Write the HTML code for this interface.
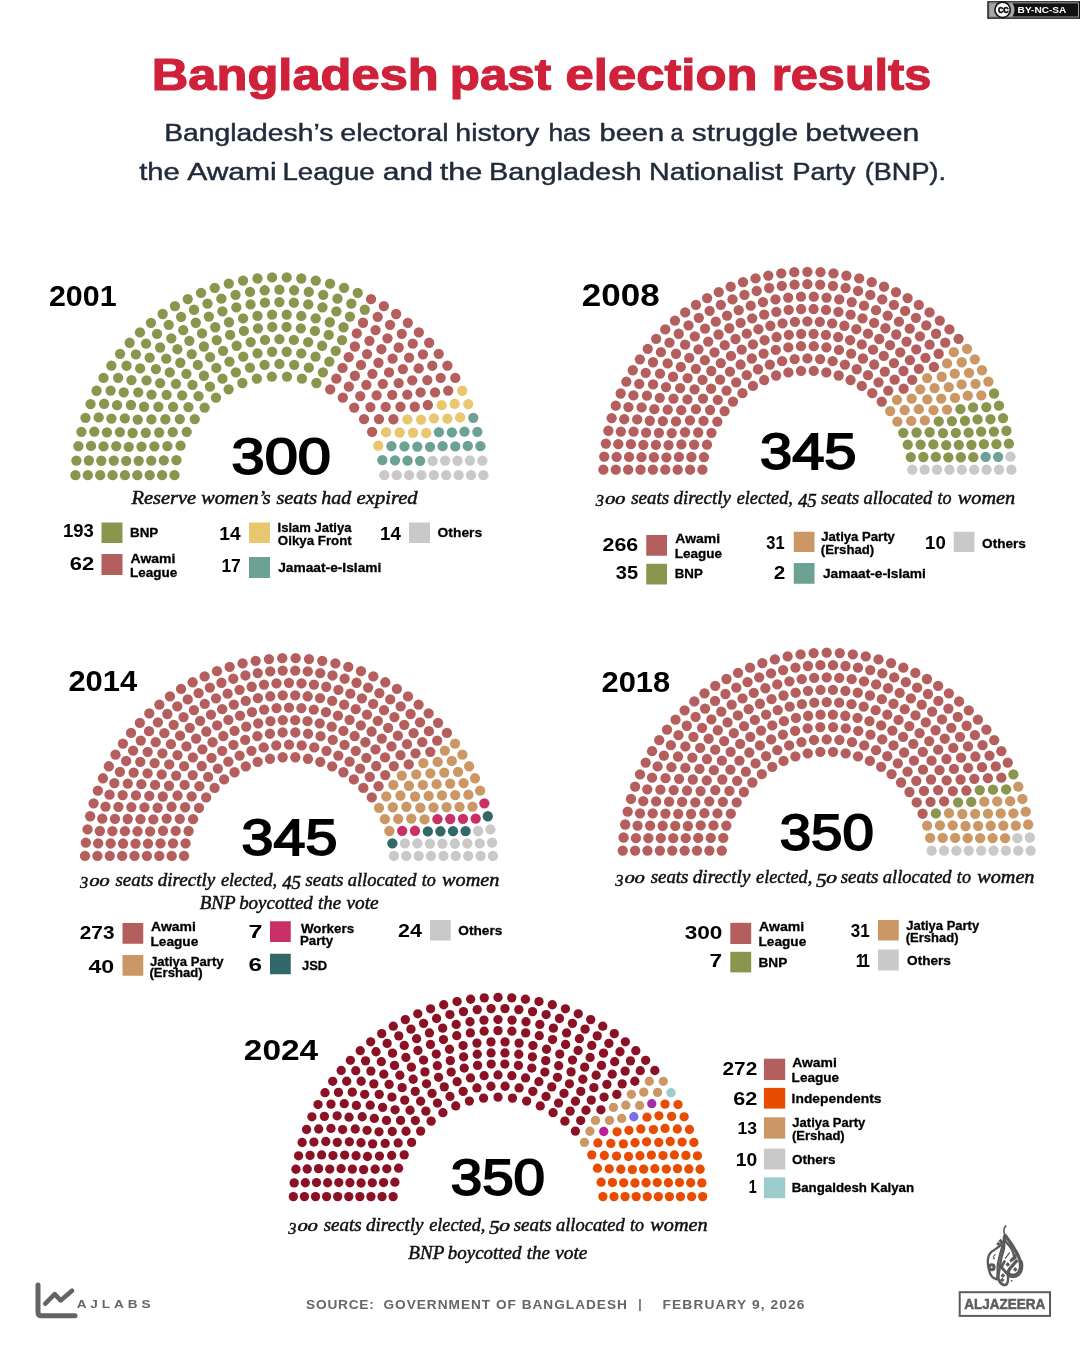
<!DOCTYPE html>
<html lang="en"><head><meta charset="utf-8"><title>Bangladesh past election results</title>
<style>
html,body{margin:0;padding:0;background:#fff}
body{width:1080px;height:1350px;overflow:hidden}
svg{display:block}
text{white-space:pre}
</style></head><body>
<svg width="1080" height="1350" viewBox="0 0 1080 1350">
<rect width="1080" height="1350" fill="#fff"/>
<g fill="#8B954D"><circle cx="75.43" cy="475.20" r="5.15"/><circle cx="87.81" cy="475.20" r="5.15"/><circle cx="100.19" cy="475.20" r="5.15"/><circle cx="112.57" cy="475.20" r="5.15"/><circle cx="124.95" cy="475.20" r="5.15"/><circle cx="137.33" cy="475.20" r="5.15"/><circle cx="149.71" cy="475.20" r="5.15"/><circle cx="162.09" cy="475.20" r="5.15"/><circle cx="174.47" cy="475.20" r="5.15"/><circle cx="76.40" cy="460.61" r="5.15"/><circle cx="88.85" cy="460.49" r="5.15"/><circle cx="101.28" cy="460.75" r="5.15"/><circle cx="113.75" cy="460.62" r="5.15"/><circle cx="126.19" cy="460.92" r="5.15"/><circle cx="138.69" cy="460.79" r="5.15"/><circle cx="151.23" cy="460.64" r="5.15"/><circle cx="78.40" cy="446.13" r="5.15"/><circle cx="163.81" cy="460.45" r="5.15"/><circle cx="91.02" cy="445.91" r="5.15"/><circle cx="103.52" cy="446.43" r="5.15"/><circle cx="176.44" cy="460.21" r="5.15"/><circle cx="116.21" cy="446.20" r="5.15"/><circle cx="128.74" cy="446.81" r="5.15"/><circle cx="81.44" cy="431.84" r="5.15"/><circle cx="141.52" cy="446.60" r="5.15"/><circle cx="94.31" cy="431.54" r="5.15"/><circle cx="154.38" cy="446.34" r="5.15"/><circle cx="106.92" cy="432.34" r="5.15"/><circle cx="119.91" cy="432.05" r="5.15"/><circle cx="167.37" cy="446.03" r="5.15"/><circle cx="85.50" cy="417.79" r="5.15"/><circle cx="132.59" cy="433.01" r="5.15"/><circle cx="98.68" cy="417.46" r="5.15"/><circle cx="180.55" cy="445.65" r="5.15"/><circle cx="145.77" cy="432.76" r="5.15"/><circle cx="111.45" cy="418.57" r="5.15"/><circle cx="159.12" cy="432.49" r="5.15"/><circle cx="124.84" cy="418.28" r="5.15"/><circle cx="90.55" cy="404.07" r="5.15"/><circle cx="137.71" cy="419.61" r="5.15"/><circle cx="104.13" cy="403.77" r="5.15"/><circle cx="172.73" cy="432.18" r="5.15"/><circle cx="117.07" cy="405.21" r="5.15"/><circle cx="151.40" cy="419.43" r="5.15"/><circle cx="96.57" cy="390.75" r="5.15"/><circle cx="130.96" cy="405.00" r="5.15"/><circle cx="186.70" cy="431.84" r="5.15"/><circle cx="110.61" cy="390.53" r="5.15"/><circle cx="165.39" cy="419.26" r="5.15"/><circle cx="144.04" cy="406.75" r="5.15"/><circle cx="123.76" cy="392.34" r="5.15"/><circle cx="103.53" cy="377.90" r="5.15"/><circle cx="158.36" cy="406.74" r="5.15"/><circle cx="179.79" cy="419.11" r="5.15"/><circle cx="138.22" cy="392.30" r="5.15"/><circle cx="118.10" cy="377.82" r="5.15"/><circle cx="151.54" cy="394.53" r="5.15"/><circle cx="131.46" cy="380.06" r="5.15"/><circle cx="111.39" cy="365.57" r="5.15"/><circle cx="173.11" cy="406.82" r="5.15"/><circle cx="194.77" cy="419.05" r="5.15"/><circle cx="126.53" cy="365.73" r="5.15"/><circle cx="146.56" cy="380.28" r="5.15"/><circle cx="166.58" cy="394.83" r="5.15"/><circle cx="120.11" cy="353.84" r="5.15"/><circle cx="140.12" cy="368.44" r="5.15"/><circle cx="188.45" cy="407.05" r="5.15"/><circle cx="160.13" cy="383.06" r="5.15"/><circle cx="135.87" cy="354.33" r="5.15"/><circle cx="182.18" cy="395.33" r="5.15"/><circle cx="155.92" cy="369.04" r="5.15"/><circle cx="129.65" cy="342.77" r="5.15"/><circle cx="175.96" cy="383.81" r="5.15"/><circle cx="149.70" cy="357.56" r="5.15"/><circle cx="204.59" cy="407.55" r="5.15"/><circle cx="169.75" cy="372.44" r="5.15"/><circle cx="146.06" cy="343.67" r="5.15"/><circle cx="198.55" cy="396.16" r="5.15"/><circle cx="139.96" cy="332.40" r="5.15"/><circle cx="166.22" cy="358.66" r="5.15"/><circle cx="192.49" cy="384.93" r="5.15"/><circle cx="160.13" cy="347.49" r="5.15"/><circle cx="186.41" cy="373.80" r="5.15"/><circle cx="180.32" cy="362.75" r="5.15"/><circle cx="157.04" cy="333.83" r="5.15"/><circle cx="150.98" cy="322.80" r="5.15"/><circle cx="177.40" cy="349.23" r="5.15"/><circle cx="215.96" cy="397.58" r="5.15"/><circle cx="171.33" cy="338.30" r="5.15"/><circle cx="209.95" cy="386.64" r="5.15"/><circle cx="203.90" cy="375.76" r="5.15"/><circle cx="168.74" cy="324.87" r="5.15"/><circle cx="197.83" cy="364.91" r="5.15"/><circle cx="162.66" cy="314.01" r="5.15"/><circle cx="191.74" cy="354.08" r="5.15"/><circle cx="189.36" cy="340.81" r="5.15"/><circle cx="183.24" cy="330.04" r="5.15"/><circle cx="181.10" cy="316.83" r="5.15"/><circle cx="174.94" cy="306.09" r="5.15"/><circle cx="203.91" cy="346.51" r="5.15"/><circle cx="210.09" cy="357.22" r="5.15"/><circle cx="216.28" cy="367.93" r="5.15"/><circle cx="222.46" cy="378.64" r="5.15"/><circle cx="228.64" cy="389.35" r="5.15"/><circle cx="195.78" cy="322.76" r="5.15"/><circle cx="202.01" cy="333.47" r="5.15"/><circle cx="187.76" cy="299.06" r="5.15"/><circle cx="194.03" cy="309.76" r="5.15"/><circle cx="216.73" cy="340.09" r="5.15"/><circle cx="223.07" cy="350.82" r="5.15"/><circle cx="208.86" cy="316.53" r="5.15"/><circle cx="229.45" cy="361.54" r="5.15"/><circle cx="215.25" cy="327.26" r="5.15"/><circle cx="201.05" cy="292.97" r="5.15"/><circle cx="207.48" cy="303.71" r="5.15"/><circle cx="235.88" cy="372.28" r="5.15"/><circle cx="242.37" cy="383.01" r="5.15"/><circle cx="230.09" cy="334.89" r="5.15"/><circle cx="222.41" cy="311.37" r="5.15"/><circle cx="214.74" cy="287.84" r="5.15"/><circle cx="221.34" cy="298.70" r="5.15"/><circle cx="228.99" cy="322.24" r="5.15"/><circle cx="236.64" cy="345.77" r="5.15"/><circle cx="243.26" cy="356.68" r="5.15"/><circle cx="249.99" cy="367.66" r="5.15"/><circle cx="228.76" cy="283.71" r="5.15"/><circle cx="236.33" cy="307.32" r="5.15"/><circle cx="243.87" cy="330.95" r="5.15"/><circle cx="235.55" cy="294.78" r="5.15"/><circle cx="243.11" cy="318.44" r="5.15"/><circle cx="256.87" cy="378.72" r="5.15"/><circle cx="250.64" cy="342.12" r="5.15"/><circle cx="243.04" cy="280.59" r="5.15"/><circle cx="257.53" cy="353.41" r="5.15"/><circle cx="250.53" cy="304.41" r="5.15"/><circle cx="250.02" cy="291.96" r="5.15"/><circle cx="257.96" cy="328.31" r="5.15"/><circle cx="257.52" cy="315.89" r="5.15"/><circle cx="264.58" cy="364.86" r="5.15"/><circle cx="257.51" cy="278.50" r="5.15"/><circle cx="264.95" cy="339.92" r="5.15"/><circle cx="264.92" cy="302.66" r="5.15"/><circle cx="264.67" cy="290.27" r="5.15"/><circle cx="271.84" cy="376.55" r="5.15"/><circle cx="272.08" cy="351.76" r="5.15"/><circle cx="272.23" cy="326.98" r="5.15"/><circle cx="272.09" cy="314.61" r="5.15"/><circle cx="272.09" cy="277.46" r="5.15"/><circle cx="279.40" cy="289.70" r="5.15"/><circle cx="279.40" cy="302.07" r="5.15"/><circle cx="279.40" cy="339.19" r="5.15"/><circle cx="279.40" cy="363.92" r="5.15"/><circle cx="286.71" cy="277.46" r="5.15"/><circle cx="286.71" cy="314.61" r="5.15"/><circle cx="286.57" cy="326.98" r="5.15"/><circle cx="286.72" cy="351.76" r="5.15"/><circle cx="286.96" cy="376.55" r="5.15"/><circle cx="294.13" cy="290.27" r="5.15"/><circle cx="293.88" cy="302.66" r="5.15"/><circle cx="293.85" cy="339.92" r="5.15"/><circle cx="301.29" cy="278.50" r="5.15"/><circle cx="294.22" cy="364.86" r="5.15"/><circle cx="301.28" cy="315.89" r="5.15"/><circle cx="300.84" cy="328.31" r="5.15"/><circle cx="308.78" cy="291.96" r="5.15"/><circle cx="308.27" cy="304.41" r="5.15"/><circle cx="301.27" cy="353.41" r="5.15"/><circle cx="315.76" cy="280.59" r="5.15"/><circle cx="308.16" cy="342.12" r="5.15"/><circle cx="301.93" cy="378.72" r="5.15"/><circle cx="315.69" cy="318.44" r="5.15"/><circle cx="323.25" cy="294.78" r="5.15"/><circle cx="314.93" cy="330.95" r="5.15"/><circle cx="322.47" cy="307.32" r="5.15"/><circle cx="330.04" cy="283.71" r="5.15"/><circle cx="308.81" cy="367.66" r="5.15"/><circle cx="315.54" cy="356.68" r="5.15"/><circle cx="322.16" cy="345.77" r="5.15"/><circle cx="329.81" cy="322.24" r="5.15"/><circle cx="337.46" cy="298.70" r="5.15"/><circle cx="344.06" cy="287.84" r="5.15"/><circle cx="336.39" cy="311.37" r="5.15"/><circle cx="328.71" cy="334.89" r="5.15"/><circle cx="316.43" cy="383.01" r="5.15"/><circle cx="322.92" cy="372.28" r="5.15"/><circle cx="351.32" cy="303.71" r="5.15"/><circle cx="357.75" cy="292.97" r="5.15"/><circle cx="343.55" cy="327.26" r="5.15"/><circle cx="329.35" cy="361.54" r="5.15"/><circle cx="349.94" cy="316.53" r="5.15"/><circle cx="335.73" cy="350.82" r="5.15"/><circle cx="342.07" cy="340.09" r="5.15"/><circle cx="364.77" cy="309.76" r="5.15"/></g>
<g fill="#B55E5E"><circle cx="371.04" cy="299.06" r="5.15"/><circle cx="356.79" cy="333.47" r="5.15"/><circle cx="363.02" cy="322.76" r="5.15"/><circle cx="330.16" cy="389.35" r="5.15"/><circle cx="336.34" cy="378.64" r="5.15"/><circle cx="342.52" cy="367.93" r="5.15"/><circle cx="348.71" cy="357.22" r="5.15"/><circle cx="354.89" cy="346.51" r="5.15"/><circle cx="383.86" cy="306.09" r="5.15"/><circle cx="377.70" cy="316.83" r="5.15"/><circle cx="375.56" cy="330.04" r="5.15"/><circle cx="369.44" cy="340.81" r="5.15"/><circle cx="367.06" cy="354.08" r="5.15"/><circle cx="396.14" cy="314.01" r="5.15"/><circle cx="360.97" cy="364.91" r="5.15"/><circle cx="390.06" cy="324.87" r="5.15"/><circle cx="354.90" cy="375.76" r="5.15"/><circle cx="348.85" cy="386.64" r="5.15"/><circle cx="387.47" cy="338.30" r="5.15"/><circle cx="342.84" cy="397.58" r="5.15"/><circle cx="381.40" cy="349.23" r="5.15"/><circle cx="407.82" cy="322.80" r="5.15"/><circle cx="401.76" cy="333.83" r="5.15"/><circle cx="378.48" cy="362.75" r="5.15"/><circle cx="372.39" cy="373.80" r="5.15"/><circle cx="398.67" cy="347.49" r="5.15"/><circle cx="366.31" cy="384.93" r="5.15"/><circle cx="392.58" cy="358.66" r="5.15"/><circle cx="418.84" cy="332.40" r="5.15"/><circle cx="360.25" cy="396.16" r="5.15"/><circle cx="412.74" cy="343.67" r="5.15"/><circle cx="389.05" cy="372.44" r="5.15"/><circle cx="354.21" cy="407.55" r="5.15"/><circle cx="409.10" cy="357.56" r="5.15"/><circle cx="382.84" cy="383.81" r="5.15"/><circle cx="429.15" cy="342.77" r="5.15"/><circle cx="402.88" cy="369.04" r="5.15"/><circle cx="376.62" cy="395.33" r="5.15"/><circle cx="422.93" cy="354.33" r="5.15"/><circle cx="398.67" cy="383.06" r="5.15"/><circle cx="370.35" cy="407.05" r="5.15"/><circle cx="418.68" cy="368.44" r="5.15"/><circle cx="438.69" cy="353.84" r="5.15"/><circle cx="392.22" cy="394.83" r="5.15"/><circle cx="412.24" cy="380.28" r="5.15"/><circle cx="432.27" cy="365.73" r="5.15"/><circle cx="364.03" cy="419.05" r="5.15"/><circle cx="385.69" cy="406.82" r="5.15"/><circle cx="447.41" cy="365.57" r="5.15"/><circle cx="427.34" cy="380.06" r="5.15"/><circle cx="407.26" cy="394.53" r="5.15"/><circle cx="440.70" cy="377.82" r="5.15"/><circle cx="420.58" cy="392.30" r="5.15"/><circle cx="379.01" cy="419.11" r="5.15"/><circle cx="400.44" cy="406.74" r="5.15"/><circle cx="455.27" cy="377.90" r="5.15"/><circle cx="435.04" cy="392.34" r="5.15"/><circle cx="414.76" cy="406.75" r="5.15"/><circle cx="393.41" cy="419.26" r="5.15"/><circle cx="448.19" cy="390.53" r="5.15"/><circle cx="372.10" cy="431.84" r="5.15"/><circle cx="427.84" cy="405.00" r="5.15"/></g>
<g fill="#E9C76F"><circle cx="462.23" cy="390.75" r="5.15"/><circle cx="407.40" cy="419.43" r="5.15"/><circle cx="441.73" cy="405.21" r="5.15"/><circle cx="386.07" cy="432.18" r="5.15"/><circle cx="454.67" cy="403.77" r="5.15"/><circle cx="421.09" cy="419.61" r="5.15"/><circle cx="468.25" cy="404.07" r="5.15"/><circle cx="433.96" cy="418.28" r="5.15"/><circle cx="399.68" cy="432.49" r="5.15"/><circle cx="447.35" cy="418.57" r="5.15"/><circle cx="413.03" cy="432.76" r="5.15"/><circle cx="378.25" cy="445.65" r="5.15"/><circle cx="460.12" cy="417.46" r="5.15"/><circle cx="426.21" cy="433.01" r="5.15"/></g>
<g fill="#6DA193"><circle cx="473.30" cy="417.79" r="5.15"/><circle cx="391.43" cy="446.03" r="5.15"/><circle cx="438.89" cy="432.05" r="5.15"/><circle cx="451.88" cy="432.34" r="5.15"/><circle cx="404.42" cy="446.34" r="5.15"/><circle cx="464.49" cy="431.54" r="5.15"/><circle cx="417.28" cy="446.60" r="5.15"/><circle cx="477.36" cy="431.84" r="5.15"/><circle cx="430.06" cy="446.81" r="5.15"/><circle cx="442.59" cy="446.20" r="5.15"/><circle cx="382.36" cy="460.21" r="5.15"/><circle cx="455.28" cy="446.43" r="5.15"/><circle cx="467.78" cy="445.91" r="5.15"/><circle cx="394.99" cy="460.45" r="5.15"/><circle cx="480.40" cy="446.13" r="5.15"/><circle cx="407.57" cy="460.64" r="5.15"/><circle cx="420.11" cy="460.79" r="5.15"/></g>
<g fill="#C9C9C9"><circle cx="432.61" cy="460.92" r="5.15"/><circle cx="445.05" cy="460.62" r="5.15"/><circle cx="457.52" cy="460.75" r="5.15"/><circle cx="469.95" cy="460.49" r="5.15"/><circle cx="482.40" cy="460.61" r="5.15"/><circle cx="384.33" cy="475.20" r="5.15"/><circle cx="396.71" cy="475.20" r="5.15"/><circle cx="409.09" cy="475.20" r="5.15"/><circle cx="421.47" cy="475.20" r="5.15"/><circle cx="433.85" cy="475.20" r="5.15"/><circle cx="446.23" cy="475.20" r="5.15"/><circle cx="458.61" cy="475.20" r="5.15"/><circle cx="470.99" cy="475.20" r="5.15"/><circle cx="483.37" cy="475.20" r="5.15"/></g>

<g fill="#B55E5E"><circle cx="603.40" cy="469.66" r="5.15"/><circle cx="615.78" cy="469.66" r="5.15"/><circle cx="628.16" cy="469.66" r="5.15"/><circle cx="640.54" cy="469.66" r="5.15"/><circle cx="652.92" cy="469.66" r="5.15"/><circle cx="665.30" cy="469.66" r="5.15"/><circle cx="677.68" cy="469.66" r="5.15"/><circle cx="690.06" cy="469.66" r="5.15"/><circle cx="702.44" cy="469.66" r="5.15"/><circle cx="604.22" cy="456.59" r="5.15"/><circle cx="616.62" cy="456.87" r="5.15"/><circle cx="629.06" cy="456.88" r="5.15"/><circle cx="641.47" cy="457.21" r="5.15"/><circle cx="653.92" cy="457.25" r="5.15"/><circle cx="666.38" cy="457.30" r="5.15"/><circle cx="678.91" cy="456.97" r="5.15"/><circle cx="605.87" cy="443.60" r="5.15"/><circle cx="691.42" cy="457.00" r="5.15"/><circle cx="618.32" cy="444.16" r="5.15"/><circle cx="630.87" cy="444.20" r="5.15"/><circle cx="703.95" cy="457.04" r="5.15"/><circle cx="643.33" cy="444.86" r="5.15"/><circle cx="655.91" cy="444.96" r="5.15"/><circle cx="668.53" cy="445.08" r="5.15"/><circle cx="608.35" cy="430.74" r="5.15"/><circle cx="620.86" cy="431.59" r="5.15"/><circle cx="681.39" cy="444.46" r="5.15"/><circle cx="633.58" cy="431.68" r="5.15"/><circle cx="646.10" cy="432.68" r="5.15"/><circle cx="694.14" cy="444.56" r="5.15"/><circle cx="658.89" cy="432.87" r="5.15"/><circle cx="611.66" cy="418.07" r="5.15"/><circle cx="624.23" cy="419.23" r="5.15"/><circle cx="706.98" cy="444.70" r="5.15"/><circle cx="671.74" cy="433.10" r="5.15"/><circle cx="637.18" cy="419.38" r="5.15"/><circle cx="649.78" cy="420.75" r="5.15"/><circle cx="685.07" cy="432.25" r="5.15"/><circle cx="615.77" cy="405.63" r="5.15"/><circle cx="662.83" cy="421.06" r="5.15"/><circle cx="628.43" cy="407.11" r="5.15"/><circle cx="698.19" cy="432.49" r="5.15"/><circle cx="641.64" cy="407.38" r="5.15"/><circle cx="675.99" cy="421.44" r="5.15"/><circle cx="654.34" cy="409.13" r="5.15"/><circle cx="620.67" cy="393.49" r="5.15"/><circle cx="711.47" cy="432.82" r="5.15"/><circle cx="633.42" cy="395.31" r="5.15"/><circle cx="689.94" cy="420.46" r="5.15"/><circle cx="667.71" cy="409.61" r="5.15"/><circle cx="646.95" cy="395.72" r="5.15"/><circle cx="626.33" cy="381.68" r="5.15"/><circle cx="681.23" cy="410.20" r="5.15"/><circle cx="659.75" cy="397.87" r="5.15"/><circle cx="703.52" cy="420.93" r="5.15"/><circle cx="639.20" cy="383.86" r="5.15"/><circle cx="673.49" cy="398.58" r="5.15"/><circle cx="653.08" cy="384.47" r="5.15"/><circle cx="695.94" cy="409.21" r="5.15"/><circle cx="717.36" cy="421.56" r="5.15"/><circle cx="632.75" cy="370.26" r="5.15"/><circle cx="666.00" cy="387.06" r="5.15"/><circle cx="687.43" cy="399.45" r="5.15"/><circle cx="645.72" cy="372.82" r="5.15"/><circle cx="710.08" cy="410.02" r="5.15"/><circle cx="680.15" cy="388.06" r="5.15"/><circle cx="660.00" cy="373.69" r="5.15"/><circle cx="639.88" cy="359.28" r="5.15"/><circle cx="652.97" cy="362.25" r="5.15"/><circle cx="673.03" cy="376.74" r="5.15"/><circle cx="703.02" cy="398.59" r="5.15"/><circle cx="694.55" cy="389.29" r="5.15"/><circle cx="724.57" cy="411.10" r="5.15"/><circle cx="647.70" cy="348.78" r="5.15"/><circle cx="667.67" cy="363.43" r="5.15"/><circle cx="687.62" cy="378.11" r="5.15"/><circle cx="660.91" cy="352.18" r="5.15"/><circle cx="717.77" cy="399.87" r="5.15"/><circle cx="680.81" cy="366.98" r="5.15"/><circle cx="711.10" cy="388.73" r="5.15"/><circle cx="656.18" cy="338.80" r="5.15"/><circle cx="702.52" cy="379.78" r="5.15"/><circle cx="676.05" cy="353.74" r="5.15"/><circle cx="695.88" cy="368.79" r="5.15"/><circle cx="669.50" cy="342.67" r="5.15"/><circle cx="732.99" cy="401.58" r="5.15"/><circle cx="689.30" cy="357.82" r="5.15"/><circle cx="665.28" cy="329.38" r="5.15"/><circle cx="726.52" cy="390.62" r="5.15"/><circle cx="685.11" cy="344.68" r="5.15"/><circle cx="711.29" cy="371.01" r="5.15"/><circle cx="720.11" cy="379.71" r="5.15"/><circle cx="678.71" cy="333.75" r="5.15"/><circle cx="704.86" cy="360.16" r="5.15"/><circle cx="698.46" cy="349.33" r="5.15"/><circle cx="674.97" cy="320.57" r="5.15"/><circle cx="694.78" cy="336.28" r="5.15"/><circle cx="688.50" cy="325.47" r="5.15"/><circle cx="742.49" cy="393.15" r="5.15"/><circle cx="720.80" cy="363.03" r="5.15"/><circle cx="736.22" cy="382.37" r="5.15"/><circle cx="714.50" cy="352.29" r="5.15"/><circle cx="685.20" cy="312.40" r="5.15"/><circle cx="729.96" cy="371.61" r="5.15"/><circle cx="708.22" cy="341.54" r="5.15"/><circle cx="705.03" cy="328.60" r="5.15"/><circle cx="698.81" cy="317.86" r="5.15"/><circle cx="695.94" cy="304.90" r="5.15"/><circle cx="730.96" cy="355.92" r="5.15"/><circle cx="724.74" cy="345.21" r="5.15"/><circle cx="718.53" cy="334.50" r="5.15"/><circle cx="752.94" cy="385.93" r="5.15"/><circle cx="746.75" cy="375.22" r="5.15"/><circle cx="740.57" cy="364.52" r="5.15"/><circle cx="715.81" cy="321.67" r="5.15"/><circle cx="709.62" cy="310.96" r="5.15"/><circle cx="707.13" cy="298.10" r="5.15"/><circle cx="729.35" cy="328.26" r="5.15"/><circle cx="735.53" cy="338.99" r="5.15"/><circle cx="741.70" cy="349.71" r="5.15"/><circle cx="720.86" cy="304.79" r="5.15"/><circle cx="727.05" cy="315.53" r="5.15"/><circle cx="718.74" cy="292.04" r="5.15"/><circle cx="751.81" cy="358.50" r="5.15"/><circle cx="758.00" cy="369.25" r="5.15"/><circle cx="764.19" cy="380.02" r="5.15"/><circle cx="740.60" cy="322.84" r="5.15"/><circle cx="746.77" cy="333.65" r="5.15"/><circle cx="732.48" cy="299.39" r="5.15"/><circle cx="738.70" cy="310.20" r="5.15"/><circle cx="752.95" cy="344.47" r="5.15"/><circle cx="730.71" cy="286.73" r="5.15"/><circle cx="763.59" cy="353.62" r="5.15"/><circle cx="752.22" cy="318.28" r="5.15"/><circle cx="744.45" cy="294.78" r="5.15"/><circle cx="769.83" cy="364.54" r="5.15"/><circle cx="758.41" cy="329.23" r="5.15"/><circle cx="750.70" cy="305.72" r="5.15"/><circle cx="743.00" cy="282.21" r="5.15"/><circle cx="764.61" cy="340.23" r="5.15"/><circle cx="776.07" cy="375.51" r="5.15"/><circle cx="756.69" cy="290.98" r="5.15"/><circle cx="764.15" cy="314.60" r="5.15"/><circle cx="755.55" cy="278.47" r="5.15"/><circle cx="762.99" cy="302.11" r="5.15"/><circle cx="775.79" cy="349.91" r="5.15"/><circle cx="770.37" cy="325.77" r="5.15"/><circle cx="776.59" cy="337.02" r="5.15"/><circle cx="782.09" cy="361.13" r="5.15"/><circle cx="769.16" cy="288.01" r="5.15"/><circle cx="768.32" cy="275.56" r="5.15"/><circle cx="776.33" cy="311.82" r="5.15"/><circle cx="788.40" cy="372.46" r="5.15"/><circle cx="775.51" cy="299.39" r="5.15"/><circle cx="782.57" cy="323.28" r="5.15"/><circle cx="788.30" cy="347.42" r="5.15"/><circle cx="781.80" cy="285.87" r="5.15"/><circle cx="788.81" cy="334.86" r="5.15"/><circle cx="781.25" cy="273.47" r="5.15"/><circle cx="788.67" cy="309.96" r="5.15"/><circle cx="794.66" cy="359.07" r="5.15"/><circle cx="788.19" cy="297.56" r="5.15"/><circle cx="794.93" cy="321.78" r="5.15"/><circle cx="794.56" cy="284.59" r="5.15"/><circle cx="794.28" cy="272.21" r="5.15"/><circle cx="801.02" cy="370.93" r="5.15"/><circle cx="800.99" cy="346.17" r="5.15"/><circle cx="801.17" cy="333.78" r="5.15"/><circle cx="801.13" cy="309.02" r="5.15"/><circle cx="800.96" cy="296.65" r="5.15"/><circle cx="807.37" cy="271.79" r="5.15"/><circle cx="807.37" cy="284.16" r="5.15"/><circle cx="807.37" cy="321.28" r="5.15"/><circle cx="807.37" cy="358.38" r="5.15"/><circle cx="813.78" cy="296.65" r="5.15"/><circle cx="813.61" cy="309.02" r="5.15"/><circle cx="813.57" cy="333.78" r="5.15"/><circle cx="813.75" cy="346.17" r="5.15"/><circle cx="813.72" cy="370.93" r="5.15"/><circle cx="820.46" cy="272.21" r="5.15"/><circle cx="820.18" cy="284.59" r="5.15"/><circle cx="819.81" cy="321.78" r="5.15"/><circle cx="826.55" cy="297.56" r="5.15"/><circle cx="820.08" cy="359.07" r="5.15"/><circle cx="826.07" cy="309.96" r="5.15"/><circle cx="833.49" cy="273.47" r="5.15"/><circle cx="825.93" cy="334.86" r="5.15"/><circle cx="832.94" cy="285.87" r="5.15"/><circle cx="826.44" cy="347.42" r="5.15"/><circle cx="832.17" cy="323.28" r="5.15"/><circle cx="839.23" cy="299.39" r="5.15"/><circle cx="826.34" cy="372.46" r="5.15"/><circle cx="838.41" cy="311.82" r="5.15"/><circle cx="846.42" cy="275.56" r="5.15"/><circle cx="845.58" cy="288.01" r="5.15"/><circle cx="832.65" cy="361.13" r="5.15"/><circle cx="838.15" cy="337.02" r="5.15"/><circle cx="844.37" cy="325.77" r="5.15"/><circle cx="838.95" cy="349.91" r="5.15"/><circle cx="851.75" cy="302.11" r="5.15"/><circle cx="859.19" cy="278.47" r="5.15"/><circle cx="850.59" cy="314.60" r="5.15"/><circle cx="858.05" cy="290.98" r="5.15"/><circle cx="838.67" cy="375.51" r="5.15"/><circle cx="850.13" cy="340.23" r="5.15"/><circle cx="871.74" cy="282.21" r="5.15"/><circle cx="864.04" cy="305.72" r="5.15"/><circle cx="856.33" cy="329.23" r="5.15"/><circle cx="844.91" cy="364.54" r="5.15"/><circle cx="870.29" cy="294.78" r="5.15"/><circle cx="862.52" cy="318.28" r="5.15"/><circle cx="851.15" cy="353.62" r="5.15"/><circle cx="884.03" cy="286.73" r="5.15"/><circle cx="861.79" cy="344.47" r="5.15"/><circle cx="876.04" cy="310.20" r="5.15"/><circle cx="882.26" cy="299.39" r="5.15"/><circle cx="867.97" cy="333.65" r="5.15"/><circle cx="874.14" cy="322.84" r="5.15"/><circle cx="850.55" cy="380.02" r="5.15"/><circle cx="856.74" cy="369.25" r="5.15"/><circle cx="862.93" cy="358.50" r="5.15"/><circle cx="896.00" cy="292.04" r="5.15"/><circle cx="887.69" cy="315.53" r="5.15"/><circle cx="893.88" cy="304.79" r="5.15"/><circle cx="873.04" cy="349.71" r="5.15"/><circle cx="879.21" cy="338.99" r="5.15"/><circle cx="885.39" cy="328.26" r="5.15"/><circle cx="907.61" cy="298.10" r="5.15"/><circle cx="905.12" cy="310.96" r="5.15"/><circle cx="898.93" cy="321.67" r="5.15"/><circle cx="874.17" cy="364.52" r="5.15"/><circle cx="867.99" cy="375.22" r="5.15"/><circle cx="861.80" cy="385.93" r="5.15"/><circle cx="896.21" cy="334.50" r="5.15"/><circle cx="890.00" cy="345.21" r="5.15"/><circle cx="883.78" cy="355.92" r="5.15"/><circle cx="918.80" cy="304.90" r="5.15"/><circle cx="915.93" cy="317.86" r="5.15"/><circle cx="909.71" cy="328.60" r="5.15"/><circle cx="906.52" cy="341.54" r="5.15"/><circle cx="884.78" cy="371.61" r="5.15"/><circle cx="929.54" cy="312.40" r="5.15"/><circle cx="900.24" cy="352.29" r="5.15"/><circle cx="878.52" cy="382.37" r="5.15"/><circle cx="893.94" cy="363.03" r="5.15"/><circle cx="872.25" cy="393.15" r="5.15"/><circle cx="926.24" cy="325.47" r="5.15"/><circle cx="919.96" cy="336.28" r="5.15"/><circle cx="939.77" cy="320.57" r="5.15"/><circle cx="916.28" cy="349.33" r="5.15"/><circle cx="909.88" cy="360.16" r="5.15"/><circle cx="936.03" cy="333.75" r="5.15"/><circle cx="894.63" cy="379.71" r="5.15"/><circle cx="903.45" cy="371.01" r="5.15"/><circle cx="929.63" cy="344.68" r="5.15"/><circle cx="888.22" cy="390.62" r="5.15"/><circle cx="949.46" cy="329.38" r="5.15"/><circle cx="925.44" cy="357.82" r="5.15"/><circle cx="881.75" cy="401.58" r="5.15"/><circle cx="945.24" cy="342.67" r="5.15"/><circle cx="918.86" cy="368.79" r="5.15"/><circle cx="938.69" cy="353.74" r="5.15"/><circle cx="912.22" cy="379.78" r="5.15"/><circle cx="958.56" cy="338.80" r="5.15"/><circle cx="903.64" cy="388.73" r="5.15"/><circle cx="933.93" cy="366.98" r="5.15"/></g>
<g fill="#CB9865"><circle cx="896.97" cy="399.87" r="5.15"/><circle cx="953.83" cy="352.18" r="5.15"/><circle cx="927.12" cy="378.11" r="5.15"/><circle cx="947.07" cy="363.43" r="5.15"/><circle cx="967.04" cy="348.78" r="5.15"/><circle cx="890.17" cy="411.10" r="5.15"/><circle cx="920.19" cy="389.29" r="5.15"/><circle cx="911.72" cy="398.59" r="5.15"/><circle cx="941.71" cy="376.74" r="5.15"/><circle cx="961.77" cy="362.25" r="5.15"/><circle cx="974.86" cy="359.28" r="5.15"/><circle cx="954.74" cy="373.69" r="5.15"/><circle cx="934.59" cy="388.06" r="5.15"/><circle cx="904.66" cy="410.02" r="5.15"/><circle cx="969.02" cy="372.82" r="5.15"/><circle cx="927.31" cy="399.45" r="5.15"/><circle cx="948.74" cy="387.06" r="5.15"/><circle cx="981.99" cy="370.26" r="5.15"/><circle cx="897.38" cy="421.56" r="5.15"/><circle cx="918.80" cy="409.21" r="5.15"/><circle cx="961.66" cy="384.47" r="5.15"/><circle cx="941.25" cy="398.58" r="5.15"/><circle cx="975.54" cy="383.86" r="5.15"/><circle cx="911.22" cy="420.93" r="5.15"/><circle cx="954.99" cy="397.87" r="5.15"/><circle cx="933.51" cy="410.20" r="5.15"/><circle cx="988.41" cy="381.68" r="5.15"/><circle cx="967.79" cy="395.72" r="5.15"/><circle cx="947.03" cy="409.61" r="5.15"/><circle cx="924.80" cy="420.46" r="5.15"/><circle cx="981.32" cy="395.31" r="5.15"/></g>
<g fill="#8B954D"><circle cx="903.27" cy="432.82" r="5.15"/><circle cx="994.07" cy="393.49" r="5.15"/><circle cx="960.40" cy="409.13" r="5.15"/><circle cx="938.75" cy="421.44" r="5.15"/><circle cx="973.10" cy="407.38" r="5.15"/><circle cx="916.55" cy="432.49" r="5.15"/><circle cx="986.31" cy="407.11" r="5.15"/><circle cx="951.91" cy="421.06" r="5.15"/><circle cx="998.97" cy="405.63" r="5.15"/><circle cx="929.67" cy="432.25" r="5.15"/><circle cx="964.96" cy="420.75" r="5.15"/><circle cx="977.56" cy="419.38" r="5.15"/><circle cx="943.00" cy="433.10" r="5.15"/><circle cx="907.76" cy="444.70" r="5.15"/><circle cx="990.51" cy="419.23" r="5.15"/><circle cx="1003.08" cy="418.07" r="5.15"/><circle cx="955.85" cy="432.87" r="5.15"/><circle cx="920.60" cy="444.56" r="5.15"/><circle cx="968.64" cy="432.68" r="5.15"/><circle cx="981.16" cy="431.68" r="5.15"/><circle cx="933.35" cy="444.46" r="5.15"/><circle cx="993.88" cy="431.59" r="5.15"/><circle cx="1006.39" cy="430.74" r="5.15"/><circle cx="946.21" cy="445.08" r="5.15"/><circle cx="958.83" cy="444.96" r="5.15"/><circle cx="971.41" cy="444.86" r="5.15"/><circle cx="910.79" cy="457.04" r="5.15"/><circle cx="983.87" cy="444.20" r="5.15"/><circle cx="996.42" cy="444.16" r="5.15"/><circle cx="923.32" cy="457.00" r="5.15"/><circle cx="1008.87" cy="443.60" r="5.15"/><circle cx="935.83" cy="456.97" r="5.15"/><circle cx="948.36" cy="457.30" r="5.15"/><circle cx="960.82" cy="457.25" r="5.15"/><circle cx="973.27" cy="457.21" r="5.15"/></g>
<g fill="#6DA193"><circle cx="985.68" cy="456.88" r="5.15"/><circle cx="998.12" cy="456.87" r="5.15"/></g>
<g fill="#C9C9C9"><circle cx="1010.52" cy="456.59" r="5.15"/><circle cx="912.30" cy="469.66" r="5.15"/><circle cx="924.68" cy="469.66" r="5.15"/><circle cx="937.06" cy="469.66" r="5.15"/><circle cx="949.44" cy="469.66" r="5.15"/><circle cx="961.82" cy="469.66" r="5.15"/><circle cx="974.20" cy="469.66" r="5.15"/><circle cx="986.58" cy="469.66" r="5.15"/><circle cx="998.96" cy="469.66" r="5.15"/><circle cx="1011.34" cy="469.66" r="5.15"/></g>

<g fill="#B55E5E"><circle cx="85.00" cy="855.97" r="5.15"/><circle cx="97.38" cy="855.97" r="5.15"/><circle cx="109.76" cy="855.97" r="5.15"/><circle cx="122.14" cy="855.97" r="5.15"/><circle cx="134.52" cy="855.97" r="5.15"/><circle cx="146.90" cy="855.97" r="5.15"/><circle cx="159.28" cy="855.97" r="5.15"/><circle cx="171.66" cy="855.97" r="5.15"/><circle cx="184.04" cy="855.97" r="5.15"/><circle cx="85.84" cy="842.62" r="5.15"/><circle cx="98.20" cy="843.45" r="5.15"/><circle cx="110.63" cy="843.48" r="5.15"/><circle cx="123.07" cy="843.52" r="5.15"/><circle cx="135.52" cy="843.56" r="5.15"/><circle cx="147.98" cy="843.61" r="5.15"/><circle cx="160.51" cy="843.28" r="5.15"/><circle cx="173.02" cy="843.31" r="5.15"/><circle cx="87.56" cy="829.36" r="5.15"/><circle cx="99.83" cy="831.01" r="5.15"/><circle cx="112.37" cy="831.08" r="5.15"/><circle cx="185.55" cy="843.35" r="5.15"/><circle cx="124.93" cy="831.17" r="5.15"/><circle cx="137.51" cy="831.27" r="5.15"/><circle cx="150.13" cy="831.39" r="5.15"/><circle cx="90.14" cy="816.24" r="5.15"/><circle cx="102.27" cy="818.70" r="5.15"/><circle cx="114.97" cy="818.84" r="5.15"/><circle cx="162.99" cy="830.77" r="5.15"/><circle cx="127.70" cy="818.99" r="5.15"/><circle cx="175.74" cy="830.87" r="5.15"/><circle cx="140.49" cy="819.18" r="5.15"/><circle cx="93.58" cy="803.31" r="5.15"/><circle cx="105.51" cy="806.58" r="5.15"/><circle cx="188.58" cy="831.01" r="5.15"/><circle cx="153.34" cy="819.41" r="5.15"/><circle cx="118.41" cy="806.80" r="5.15"/><circle cx="131.38" cy="807.06" r="5.15"/><circle cx="166.67" cy="818.56" r="5.15"/><circle cx="97.85" cy="790.64" r="5.15"/><circle cx="109.54" cy="794.70" r="5.15"/><circle cx="144.43" cy="807.37" r="5.15"/><circle cx="179.79" cy="818.80" r="5.15"/><circle cx="122.69" cy="795.04" r="5.15"/><circle cx="157.59" cy="807.75" r="5.15"/><circle cx="135.94" cy="795.44" r="5.15"/><circle cx="193.07" cy="819.13" r="5.15"/><circle cx="102.95" cy="778.27" r="5.15"/><circle cx="114.34" cy="783.10" r="5.15"/><circle cx="171.54" cy="806.77" r="5.15"/><circle cx="149.31" cy="795.92" r="5.15"/><circle cx="127.78" cy="783.60" r="5.15"/><circle cx="162.83" cy="796.51" r="5.15"/><circle cx="141.35" cy="784.18" r="5.15"/><circle cx="185.12" cy="807.24" r="5.15"/><circle cx="108.84" cy="766.27" r="5.15"/><circle cx="119.89" cy="771.85" r="5.15"/><circle cx="133.65" cy="772.54" r="5.15"/><circle cx="155.09" cy="784.89" r="5.15"/><circle cx="177.54" cy="795.52" r="5.15"/><circle cx="198.96" cy="807.87" r="5.15"/><circle cx="115.51" cy="754.67" r="5.15"/><circle cx="126.16" cy="760.98" r="5.15"/><circle cx="147.60" cy="773.37" r="5.15"/><circle cx="169.03" cy="785.76" r="5.15"/><circle cx="140.29" cy="761.92" r="5.15"/><circle cx="191.68" cy="796.33" r="5.15"/><circle cx="161.75" cy="774.37" r="5.15"/><circle cx="122.92" cy="743.54" r="5.15"/><circle cx="133.13" cy="750.55" r="5.15"/><circle cx="154.63" cy="763.05" r="5.15"/><circle cx="184.62" cy="784.90" r="5.15"/><circle cx="176.15" cy="775.60" r="5.15"/><circle cx="147.64" cy="751.79" r="5.15"/><circle cx="206.17" cy="797.41" r="5.15"/><circle cx="169.22" cy="764.42" r="5.15"/><circle cx="131.05" cy="732.92" r="5.15"/><circle cx="140.76" cy="740.59" r="5.15"/><circle cx="199.37" cy="786.18" r="5.15"/><circle cx="162.41" cy="753.29" r="5.15"/><circle cx="155.69" cy="742.20" r="5.15"/><circle cx="192.70" cy="775.04" r="5.15"/><circle cx="184.12" cy="766.09" r="5.15"/><circle cx="139.85" cy="722.85" r="5.15"/><circle cx="149.03" cy="731.15" r="5.15"/><circle cx="177.48" cy="755.10" r="5.15"/><circle cx="214.59" cy="787.89" r="5.15"/><circle cx="170.90" cy="744.13" r="5.15"/><circle cx="164.38" cy="733.19" r="5.15"/><circle cx="208.12" cy="776.93" r="5.15"/><circle cx="149.30" cy="713.38" r="5.15"/><circle cx="157.90" cy="722.28" r="5.15"/><circle cx="192.89" cy="757.32" r="5.15"/><circle cx="201.71" cy="766.02" r="5.15"/><circle cx="186.46" cy="746.47" r="5.15"/><circle cx="180.06" cy="735.64" r="5.15"/><circle cx="173.68" cy="724.82" r="5.15"/><circle cx="159.35" cy="704.55" r="5.15"/><circle cx="167.33" cy="714.00" r="5.15"/><circle cx="224.09" cy="779.46" r="5.15"/><circle cx="202.40" cy="749.34" r="5.15"/><circle cx="217.82" cy="768.68" r="5.15"/><circle cx="196.10" cy="738.60" r="5.15"/><circle cx="211.56" cy="757.92" r="5.15"/><circle cx="189.82" cy="727.85" r="5.15"/><circle cx="183.55" cy="717.11" r="5.15"/><circle cx="169.95" cy="696.40" r="5.15"/><circle cx="177.29" cy="706.36" r="5.15"/><circle cx="212.56" cy="742.23" r="5.15"/><circle cx="206.34" cy="731.52" r="5.15"/><circle cx="200.13" cy="720.81" r="5.15"/><circle cx="193.93" cy="710.10" r="5.15"/><circle cx="181.06" cy="688.96" r="5.15"/><circle cx="187.72" cy="699.39" r="5.15"/><circle cx="234.54" cy="772.24" r="5.15"/><circle cx="228.35" cy="761.53" r="5.15"/><circle cx="222.17" cy="750.83" r="5.15"/><circle cx="192.64" cy="682.27" r="5.15"/><circle cx="198.58" cy="693.12" r="5.15"/><circle cx="204.77" cy="703.84" r="5.15"/><circle cx="210.95" cy="714.57" r="5.15"/><circle cx="217.13" cy="725.30" r="5.15"/><circle cx="223.30" cy="736.02" r="5.15"/><circle cx="233.41" cy="744.81" r="5.15"/><circle cx="239.60" cy="755.56" r="5.15"/><circle cx="204.63" cy="676.34" r="5.15"/><circle cx="209.84" cy="687.57" r="5.15"/><circle cx="245.79" cy="766.33" r="5.15"/><circle cx="216.02" cy="698.35" r="5.15"/><circle cx="222.20" cy="709.15" r="5.15"/><circle cx="228.37" cy="719.96" r="5.15"/><circle cx="234.55" cy="730.78" r="5.15"/><circle cx="216.98" cy="671.22" r="5.15"/><circle cx="221.43" cy="682.76" r="5.15"/><circle cx="227.63" cy="693.66" r="5.15"/><circle cx="245.19" cy="739.93" r="5.15"/><circle cx="233.82" cy="704.59" r="5.15"/><circle cx="251.43" cy="750.85" r="5.15"/><circle cx="240.01" cy="715.54" r="5.15"/><circle cx="246.21" cy="726.54" r="5.15"/><circle cx="257.67" cy="761.82" r="5.15"/><circle cx="229.64" cy="666.91" r="5.15"/><circle cx="233.31" cy="678.73" r="5.15"/><circle cx="239.53" cy="689.79" r="5.15"/><circle cx="245.75" cy="700.91" r="5.15"/><circle cx="257.39" cy="736.22" r="5.15"/><circle cx="251.97" cy="712.08" r="5.15"/><circle cx="242.56" cy="663.44" r="5.15"/><circle cx="245.43" cy="675.48" r="5.15"/><circle cx="258.19" cy="723.33" r="5.15"/><circle cx="263.69" cy="747.44" r="5.15"/><circle cx="251.68" cy="686.76" r="5.15"/><circle cx="257.93" cy="698.13" r="5.15"/><circle cx="270.00" cy="758.77" r="5.15"/><circle cx="255.68" cy="660.83" r="5.15"/><circle cx="257.74" cy="673.03" r="5.15"/><circle cx="264.17" cy="709.59" r="5.15"/><circle cx="269.90" cy="733.73" r="5.15"/><circle cx="264.01" cy="684.59" r="5.15"/><circle cx="270.41" cy="721.17" r="5.15"/><circle cx="270.27" cy="696.27" r="5.15"/><circle cx="276.26" cy="745.38" r="5.15"/><circle cx="268.94" cy="659.08" r="5.15"/><circle cx="270.18" cy="671.39" r="5.15"/><circle cx="276.53" cy="708.09" r="5.15"/><circle cx="276.46" cy="683.28" r="5.15"/><circle cx="282.62" cy="757.24" r="5.15"/><circle cx="282.59" cy="732.48" r="5.15"/><circle cx="282.77" cy="720.09" r="5.15"/><circle cx="282.73" cy="695.33" r="5.15"/><circle cx="282.28" cy="658.21" r="5.15"/><circle cx="282.70" cy="670.57" r="5.15"/><circle cx="288.97" cy="682.84" r="5.15"/><circle cx="288.97" cy="707.59" r="5.15"/><circle cx="288.97" cy="744.69" r="5.15"/><circle cx="295.24" cy="670.57" r="5.15"/><circle cx="295.66" cy="658.21" r="5.15"/><circle cx="295.21" cy="695.33" r="5.15"/><circle cx="295.17" cy="720.09" r="5.15"/><circle cx="295.35" cy="732.48" r="5.15"/><circle cx="295.32" cy="757.24" r="5.15"/><circle cx="301.48" cy="683.28" r="5.15"/><circle cx="301.41" cy="708.09" r="5.15"/><circle cx="307.76" cy="671.39" r="5.15"/><circle cx="309.00" cy="659.08" r="5.15"/><circle cx="301.68" cy="745.38" r="5.15"/><circle cx="307.67" cy="696.27" r="5.15"/><circle cx="307.53" cy="721.17" r="5.15"/><circle cx="313.93" cy="684.59" r="5.15"/><circle cx="308.04" cy="733.73" r="5.15"/><circle cx="313.77" cy="709.59" r="5.15"/><circle cx="320.20" cy="673.03" r="5.15"/><circle cx="322.26" cy="660.83" r="5.15"/><circle cx="307.94" cy="758.77" r="5.15"/><circle cx="320.01" cy="698.13" r="5.15"/><circle cx="326.26" cy="686.76" r="5.15"/><circle cx="314.25" cy="747.44" r="5.15"/><circle cx="319.75" cy="723.33" r="5.15"/><circle cx="332.51" cy="675.48" r="5.15"/><circle cx="335.38" cy="663.44" r="5.15"/><circle cx="325.97" cy="712.08" r="5.15"/><circle cx="320.55" cy="736.22" r="5.15"/><circle cx="332.19" cy="700.91" r="5.15"/><circle cx="338.41" cy="689.79" r="5.15"/><circle cx="344.63" cy="678.73" r="5.15"/><circle cx="348.30" cy="666.91" r="5.15"/><circle cx="320.27" cy="761.82" r="5.15"/><circle cx="331.73" cy="726.54" r="5.15"/><circle cx="337.93" cy="715.54" r="5.15"/><circle cx="326.51" cy="750.85" r="5.15"/><circle cx="344.12" cy="704.59" r="5.15"/><circle cx="332.75" cy="739.93" r="5.15"/><circle cx="350.31" cy="693.66" r="5.15"/><circle cx="356.51" cy="682.76" r="5.15"/><circle cx="360.96" cy="671.22" r="5.15"/><circle cx="343.39" cy="730.78" r="5.15"/><circle cx="349.57" cy="719.96" r="5.15"/><circle cx="355.74" cy="709.15" r="5.15"/><circle cx="361.92" cy="698.35" r="5.15"/><circle cx="332.15" cy="766.33" r="5.15"/><circle cx="368.10" cy="687.57" r="5.15"/><circle cx="373.31" cy="676.34" r="5.15"/><circle cx="338.34" cy="755.56" r="5.15"/><circle cx="344.53" cy="744.81" r="5.15"/><circle cx="354.64" cy="736.02" r="5.15"/><circle cx="360.81" cy="725.30" r="5.15"/><circle cx="366.99" cy="714.57" r="5.15"/><circle cx="373.17" cy="703.84" r="5.15"/><circle cx="379.36" cy="693.12" r="5.15"/><circle cx="385.30" cy="682.27" r="5.15"/><circle cx="355.77" cy="750.83" r="5.15"/><circle cx="349.59" cy="761.53" r="5.15"/><circle cx="343.40" cy="772.24" r="5.15"/><circle cx="390.22" cy="699.39" r="5.15"/><circle cx="396.88" cy="688.96" r="5.15"/><circle cx="384.01" cy="710.10" r="5.15"/><circle cx="377.81" cy="720.81" r="5.15"/><circle cx="371.60" cy="731.52" r="5.15"/><circle cx="365.38" cy="742.23" r="5.15"/><circle cx="400.65" cy="706.36" r="5.15"/><circle cx="407.99" cy="696.40" r="5.15"/><circle cx="394.39" cy="717.11" r="5.15"/><circle cx="388.12" cy="727.85" r="5.15"/><circle cx="366.38" cy="757.92" r="5.15"/><circle cx="381.84" cy="738.60" r="5.15"/><circle cx="360.12" cy="768.68" r="5.15"/><circle cx="375.54" cy="749.34" r="5.15"/><circle cx="353.85" cy="779.46" r="5.15"/><circle cx="410.61" cy="714.00" r="5.15"/><circle cx="418.59" cy="704.55" r="5.15"/><circle cx="404.26" cy="724.82" r="5.15"/><circle cx="397.88" cy="735.64" r="5.15"/><circle cx="391.48" cy="746.47" r="5.15"/><circle cx="376.23" cy="766.02" r="5.15"/><circle cx="385.05" cy="757.32" r="5.15"/><circle cx="420.04" cy="722.28" r="5.15"/><circle cx="428.64" cy="713.38" r="5.15"/><circle cx="369.82" cy="776.93" r="5.15"/><circle cx="413.56" cy="733.19" r="5.15"/><circle cx="407.04" cy="744.13" r="5.15"/><circle cx="363.35" cy="787.89" r="5.15"/><circle cx="400.46" cy="755.10" r="5.15"/><circle cx="428.91" cy="731.15" r="5.15"/><circle cx="438.09" cy="722.85" r="5.15"/><circle cx="393.82" cy="766.09" r="5.15"/><circle cx="385.24" cy="775.04" r="5.15"/><circle cx="422.25" cy="742.20" r="5.15"/><circle cx="415.53" cy="753.29" r="5.15"/><circle cx="378.57" cy="786.18" r="5.15"/><circle cx="437.18" cy="740.59" r="5.15"/><circle cx="446.89" cy="732.92" r="5.15"/><circle cx="408.72" cy="764.42" r="5.15"/><circle cx="371.77" cy="797.41" r="5.15"/><circle cx="430.30" cy="751.79" r="5.15"/></g>
<g fill="#CB9865"><circle cx="401.79" cy="775.60" r="5.15"/><circle cx="393.32" cy="784.90" r="5.15"/><circle cx="423.31" cy="763.05" r="5.15"/><circle cx="444.81" cy="750.55" r="5.15"/><circle cx="455.02" cy="743.54" r="5.15"/><circle cx="416.19" cy="774.37" r="5.15"/><circle cx="386.26" cy="796.33" r="5.15"/><circle cx="437.65" cy="761.92" r="5.15"/><circle cx="408.91" cy="785.76" r="5.15"/><circle cx="430.34" cy="773.37" r="5.15"/><circle cx="451.78" cy="760.98" r="5.15"/><circle cx="462.43" cy="754.67" r="5.15"/><circle cx="378.98" cy="807.87" r="5.15"/><circle cx="400.40" cy="795.52" r="5.15"/><circle cx="422.85" cy="784.89" r="5.15"/><circle cx="444.29" cy="772.54" r="5.15"/><circle cx="458.05" cy="771.85" r="5.15"/><circle cx="469.10" cy="766.27" r="5.15"/><circle cx="392.82" cy="807.24" r="5.15"/><circle cx="436.59" cy="784.18" r="5.15"/><circle cx="415.11" cy="796.51" r="5.15"/><circle cx="450.16" cy="783.60" r="5.15"/><circle cx="428.63" cy="795.92" r="5.15"/><circle cx="406.40" cy="806.77" r="5.15"/><circle cx="463.60" cy="783.10" r="5.15"/><circle cx="474.99" cy="778.27" r="5.15"/><circle cx="384.87" cy="819.13" r="5.15"/><circle cx="442.00" cy="795.44" r="5.15"/><circle cx="420.35" cy="807.75" r="5.15"/><circle cx="455.25" cy="795.04" r="5.15"/><circle cx="398.15" cy="818.80" r="5.15"/><circle cx="433.51" cy="807.37" r="5.15"/><circle cx="468.40" cy="794.70" r="5.15"/><circle cx="480.09" cy="790.64" r="5.15"/><circle cx="411.27" cy="818.56" r="5.15"/><circle cx="446.56" cy="807.06" r="5.15"/><circle cx="459.53" cy="806.80" r="5.15"/><circle cx="424.60" cy="819.41" r="5.15"/><circle cx="389.36" cy="831.01" r="5.15"/><circle cx="472.43" cy="806.58" r="5.15"/></g>
<g fill="#C93166"><circle cx="484.36" cy="803.31" r="5.15"/><circle cx="437.45" cy="819.18" r="5.15"/><circle cx="402.20" cy="830.87" r="5.15"/><circle cx="450.24" cy="818.99" r="5.15"/><circle cx="414.95" cy="830.77" r="5.15"/><circle cx="462.97" cy="818.84" r="5.15"/><circle cx="475.67" cy="818.70" r="5.15"/></g>
<g fill="#336868"><circle cx="487.80" cy="816.24" r="5.15"/><circle cx="427.81" cy="831.39" r="5.15"/><circle cx="440.43" cy="831.27" r="5.15"/><circle cx="453.01" cy="831.17" r="5.15"/><circle cx="392.39" cy="843.35" r="5.15"/><circle cx="465.57" cy="831.08" r="5.15"/></g>
<g fill="#C9C9C9"><circle cx="478.11" cy="831.01" r="5.15"/><circle cx="490.38" cy="829.36" r="5.15"/><circle cx="404.92" cy="843.31" r="5.15"/><circle cx="417.43" cy="843.28" r="5.15"/><circle cx="429.96" cy="843.61" r="5.15"/><circle cx="442.42" cy="843.56" r="5.15"/><circle cx="454.87" cy="843.52" r="5.15"/><circle cx="467.31" cy="843.48" r="5.15"/><circle cx="479.74" cy="843.45" r="5.15"/><circle cx="492.10" cy="842.62" r="5.15"/><circle cx="393.90" cy="855.97" r="5.15"/><circle cx="406.28" cy="855.97" r="5.15"/><circle cx="418.66" cy="855.97" r="5.15"/><circle cx="431.04" cy="855.97" r="5.15"/><circle cx="443.42" cy="855.97" r="5.15"/><circle cx="455.80" cy="855.97" r="5.15"/><circle cx="468.18" cy="855.97" r="5.15"/><circle cx="480.56" cy="855.97" r="5.15"/><circle cx="492.94" cy="855.97" r="5.15"/></g>

<g fill="#B55E5E"><circle cx="622.73" cy="850.57" r="5.15"/><circle cx="635.11" cy="850.57" r="5.15"/><circle cx="647.49" cy="850.57" r="5.15"/><circle cx="659.87" cy="850.57" r="5.15"/><circle cx="672.25" cy="850.57" r="5.15"/><circle cx="684.63" cy="850.57" r="5.15"/><circle cx="697.01" cy="850.57" r="5.15"/><circle cx="709.39" cy="850.57" r="5.15"/><circle cx="721.77" cy="850.57" r="5.15"/><circle cx="623.55" cy="837.50" r="5.15"/><circle cx="635.93" cy="838.05" r="5.15"/><circle cx="648.36" cy="838.08" r="5.15"/><circle cx="660.80" cy="838.12" r="5.15"/><circle cx="673.25" cy="838.16" r="5.15"/><circle cx="685.71" cy="838.21" r="5.15"/><circle cx="698.24" cy="837.88" r="5.15"/><circle cx="625.20" cy="824.51" r="5.15"/><circle cx="710.75" cy="837.91" r="5.15"/><circle cx="637.56" cy="825.61" r="5.15"/><circle cx="650.10" cy="825.68" r="5.15"/><circle cx="723.28" cy="837.95" r="5.15"/><circle cx="662.66" cy="825.77" r="5.15"/><circle cx="675.24" cy="825.87" r="5.15"/><circle cx="687.86" cy="825.99" r="5.15"/><circle cx="627.68" cy="811.65" r="5.15"/><circle cx="640.00" cy="813.30" r="5.15"/><circle cx="652.70" cy="813.44" r="5.15"/><circle cx="700.72" cy="825.37" r="5.15"/><circle cx="665.43" cy="813.59" r="5.15"/><circle cx="713.47" cy="825.47" r="5.15"/><circle cx="678.22" cy="813.78" r="5.15"/><circle cx="630.99" cy="798.98" r="5.15"/><circle cx="643.24" cy="801.18" r="5.15"/><circle cx="726.31" cy="825.61" r="5.15"/><circle cx="691.07" cy="814.01" r="5.15"/><circle cx="656.14" cy="801.40" r="5.15"/><circle cx="669.11" cy="801.66" r="5.15"/><circle cx="704.40" cy="813.16" r="5.15"/><circle cx="635.10" cy="786.54" r="5.15"/><circle cx="647.27" cy="789.30" r="5.15"/><circle cx="682.16" cy="801.97" r="5.15"/><circle cx="717.52" cy="813.40" r="5.15"/><circle cx="660.42" cy="789.64" r="5.15"/><circle cx="695.32" cy="802.35" r="5.15"/><circle cx="673.67" cy="790.04" r="5.15"/><circle cx="640.00" cy="774.40" r="5.15"/><circle cx="730.80" cy="813.73" r="5.15"/><circle cx="652.07" cy="777.70" r="5.15"/><circle cx="709.27" cy="801.37" r="5.15"/><circle cx="687.04" cy="790.52" r="5.15"/><circle cx="665.51" cy="778.20" r="5.15"/><circle cx="645.66" cy="762.59" r="5.15"/><circle cx="700.56" cy="791.11" r="5.15"/><circle cx="679.08" cy="778.78" r="5.15"/><circle cx="722.85" cy="801.84" r="5.15"/><circle cx="657.62" cy="766.45" r="5.15"/><circle cx="671.38" cy="767.14" r="5.15"/><circle cx="692.82" cy="779.49" r="5.15"/><circle cx="715.27" cy="790.12" r="5.15"/><circle cx="736.69" cy="802.47" r="5.15"/><circle cx="652.08" cy="751.17" r="5.15"/><circle cx="663.89" cy="755.58" r="5.15"/><circle cx="685.33" cy="767.97" r="5.15"/><circle cx="706.76" cy="780.36" r="5.15"/><circle cx="678.02" cy="756.52" r="5.15"/><circle cx="729.41" cy="790.93" r="5.15"/><circle cx="699.48" cy="768.97" r="5.15"/><circle cx="659.21" cy="740.19" r="5.15"/><circle cx="670.86" cy="745.15" r="5.15"/><circle cx="692.36" cy="757.65" r="5.15"/><circle cx="722.35" cy="779.50" r="5.15"/><circle cx="713.88" cy="770.20" r="5.15"/><circle cx="685.37" cy="746.39" r="5.15"/><circle cx="743.90" cy="792.01" r="5.15"/><circle cx="667.03" cy="729.69" r="5.15"/><circle cx="706.95" cy="759.02" r="5.15"/><circle cx="678.49" cy="735.19" r="5.15"/><circle cx="737.10" cy="780.78" r="5.15"/><circle cx="700.14" cy="747.89" r="5.15"/><circle cx="693.42" cy="736.80" r="5.15"/><circle cx="730.43" cy="769.64" r="5.15"/><circle cx="675.51" cy="719.71" r="5.15"/><circle cx="721.85" cy="760.69" r="5.15"/><circle cx="686.76" cy="725.75" r="5.15"/><circle cx="715.21" cy="749.70" r="5.15"/><circle cx="752.32" cy="782.49" r="5.15"/><circle cx="708.63" cy="738.73" r="5.15"/><circle cx="684.61" cy="710.29" r="5.15"/><circle cx="702.11" cy="727.79" r="5.15"/><circle cx="745.85" cy="771.53" r="5.15"/><circle cx="695.63" cy="716.88" r="5.15"/><circle cx="730.62" cy="751.92" r="5.15"/><circle cx="739.44" cy="760.62" r="5.15"/><circle cx="724.19" cy="741.07" r="5.15"/><circle cx="717.79" cy="730.24" r="5.15"/><circle cx="694.30" cy="701.48" r="5.15"/><circle cx="711.41" cy="719.42" r="5.15"/><circle cx="705.06" cy="708.60" r="5.15"/><circle cx="761.82" cy="774.06" r="5.15"/><circle cx="740.13" cy="743.94" r="5.15"/><circle cx="755.55" cy="763.28" r="5.15"/><circle cx="733.83" cy="733.20" r="5.15"/><circle cx="704.53" cy="693.31" r="5.15"/><circle cx="749.29" cy="752.52" r="5.15"/><circle cx="727.55" cy="722.45" r="5.15"/><circle cx="721.28" cy="711.71" r="5.15"/><circle cx="715.02" cy="700.96" r="5.15"/><circle cx="715.27" cy="685.81" r="5.15"/><circle cx="750.29" cy="736.83" r="5.15"/><circle cx="744.07" cy="726.12" r="5.15"/><circle cx="737.86" cy="715.41" r="5.15"/><circle cx="731.66" cy="704.70" r="5.15"/><circle cx="725.45" cy="693.99" r="5.15"/><circle cx="772.27" cy="766.84" r="5.15"/><circle cx="766.08" cy="756.13" r="5.15"/><circle cx="759.90" cy="745.43" r="5.15"/><circle cx="726.46" cy="679.01" r="5.15"/><circle cx="736.31" cy="687.72" r="5.15"/><circle cx="742.50" cy="698.44" r="5.15"/><circle cx="748.68" cy="709.17" r="5.15"/><circle cx="754.86" cy="719.90" r="5.15"/><circle cx="761.03" cy="730.62" r="5.15"/><circle cx="738.07" cy="672.95" r="5.15"/><circle cx="771.14" cy="739.41" r="5.15"/><circle cx="777.33" cy="750.16" r="5.15"/><circle cx="747.57" cy="682.17" r="5.15"/><circle cx="783.52" cy="760.93" r="5.15"/><circle cx="753.75" cy="692.95" r="5.15"/><circle cx="759.93" cy="703.75" r="5.15"/><circle cx="766.10" cy="714.56" r="5.15"/><circle cx="772.28" cy="725.38" r="5.15"/><circle cx="750.04" cy="667.64" r="5.15"/><circle cx="759.16" cy="677.36" r="5.15"/><circle cx="765.36" cy="688.26" r="5.15"/><circle cx="782.92" cy="734.53" r="5.15"/><circle cx="771.55" cy="699.19" r="5.15"/><circle cx="789.16" cy="745.45" r="5.15"/><circle cx="777.74" cy="710.14" r="5.15"/><circle cx="762.33" cy="663.12" r="5.15"/><circle cx="783.94" cy="721.14" r="5.15"/><circle cx="795.40" cy="756.42" r="5.15"/><circle cx="771.04" cy="673.33" r="5.15"/><circle cx="777.26" cy="684.39" r="5.15"/><circle cx="783.48" cy="695.51" r="5.15"/><circle cx="774.88" cy="659.38" r="5.15"/><circle cx="795.12" cy="730.82" r="5.15"/><circle cx="789.70" cy="706.68" r="5.15"/><circle cx="783.16" cy="670.08" r="5.15"/><circle cx="795.92" cy="717.93" r="5.15"/><circle cx="801.42" cy="742.04" r="5.15"/><circle cx="789.41" cy="681.36" r="5.15"/><circle cx="787.65" cy="656.47" r="5.15"/><circle cx="795.66" cy="692.73" r="5.15"/><circle cx="807.73" cy="753.37" r="5.15"/><circle cx="795.47" cy="667.63" r="5.15"/><circle cx="801.90" cy="704.19" r="5.15"/><circle cx="807.63" cy="728.33" r="5.15"/><circle cx="801.74" cy="679.19" r="5.15"/><circle cx="808.14" cy="715.77" r="5.15"/><circle cx="800.58" cy="654.38" r="5.15"/><circle cx="808.00" cy="690.87" r="5.15"/><circle cx="813.99" cy="739.98" r="5.15"/><circle cx="807.91" cy="665.99" r="5.15"/><circle cx="814.26" cy="702.69" r="5.15"/><circle cx="814.19" cy="677.88" r="5.15"/><circle cx="813.61" cy="653.12" r="5.15"/><circle cx="820.35" cy="751.84" r="5.15"/><circle cx="820.32" cy="727.08" r="5.15"/><circle cx="820.50" cy="714.69" r="5.15"/><circle cx="820.46" cy="689.93" r="5.15"/><circle cx="820.43" cy="665.17" r="5.15"/><circle cx="826.70" cy="652.70" r="5.15"/><circle cx="826.70" cy="677.44" r="5.15"/><circle cx="826.70" cy="702.19" r="5.15"/><circle cx="826.70" cy="739.29" r="5.15"/><circle cx="832.97" cy="665.17" r="5.15"/><circle cx="832.94" cy="689.93" r="5.15"/><circle cx="832.90" cy="714.69" r="5.15"/><circle cx="833.08" cy="727.08" r="5.15"/><circle cx="833.05" cy="751.84" r="5.15"/><circle cx="839.79" cy="653.12" r="5.15"/><circle cx="839.21" cy="677.88" r="5.15"/><circle cx="839.14" cy="702.69" r="5.15"/><circle cx="845.49" cy="665.99" r="5.15"/><circle cx="839.41" cy="739.98" r="5.15"/><circle cx="845.40" cy="690.87" r="5.15"/><circle cx="852.82" cy="654.38" r="5.15"/><circle cx="845.26" cy="715.77" r="5.15"/><circle cx="851.66" cy="679.19" r="5.15"/><circle cx="845.77" cy="728.33" r="5.15"/><circle cx="851.50" cy="704.19" r="5.15"/><circle cx="857.93" cy="667.63" r="5.15"/><circle cx="845.67" cy="753.37" r="5.15"/><circle cx="857.74" cy="692.73" r="5.15"/><circle cx="865.75" cy="656.47" r="5.15"/><circle cx="863.99" cy="681.36" r="5.15"/><circle cx="851.98" cy="742.04" r="5.15"/><circle cx="857.48" cy="717.93" r="5.15"/><circle cx="870.24" cy="670.08" r="5.15"/><circle cx="863.70" cy="706.68" r="5.15"/><circle cx="858.28" cy="730.82" r="5.15"/><circle cx="878.52" cy="659.38" r="5.15"/><circle cx="869.92" cy="695.51" r="5.15"/><circle cx="876.14" cy="684.39" r="5.15"/><circle cx="882.36" cy="673.33" r="5.15"/><circle cx="858.00" cy="756.42" r="5.15"/><circle cx="869.46" cy="721.14" r="5.15"/><circle cx="891.07" cy="663.12" r="5.15"/><circle cx="875.66" cy="710.14" r="5.15"/><circle cx="864.24" cy="745.45" r="5.15"/><circle cx="881.85" cy="699.19" r="5.15"/><circle cx="870.48" cy="734.53" r="5.15"/><circle cx="888.04" cy="688.26" r="5.15"/><circle cx="894.24" cy="677.36" r="5.15"/><circle cx="903.36" cy="667.64" r="5.15"/><circle cx="881.12" cy="725.38" r="5.15"/><circle cx="887.30" cy="714.56" r="5.15"/><circle cx="893.47" cy="703.75" r="5.15"/><circle cx="899.65" cy="692.95" r="5.15"/><circle cx="869.88" cy="760.93" r="5.15"/><circle cx="905.83" cy="682.17" r="5.15"/><circle cx="876.07" cy="750.16" r="5.15"/><circle cx="882.26" cy="739.41" r="5.15"/><circle cx="915.33" cy="672.95" r="5.15"/><circle cx="892.37" cy="730.62" r="5.15"/><circle cx="898.54" cy="719.90" r="5.15"/><circle cx="904.72" cy="709.17" r="5.15"/><circle cx="910.90" cy="698.44" r="5.15"/><circle cx="917.09" cy="687.72" r="5.15"/><circle cx="926.94" cy="679.01" r="5.15"/><circle cx="893.50" cy="745.43" r="5.15"/><circle cx="887.32" cy="756.13" r="5.15"/><circle cx="881.13" cy="766.84" r="5.15"/><circle cx="927.95" cy="693.99" r="5.15"/><circle cx="921.74" cy="704.70" r="5.15"/><circle cx="915.54" cy="715.41" r="5.15"/><circle cx="909.33" cy="726.12" r="5.15"/><circle cx="903.11" cy="736.83" r="5.15"/><circle cx="938.13" cy="685.81" r="5.15"/><circle cx="938.38" cy="700.96" r="5.15"/><circle cx="932.12" cy="711.71" r="5.15"/><circle cx="925.85" cy="722.45" r="5.15"/><circle cx="904.11" cy="752.52" r="5.15"/><circle cx="948.87" cy="693.31" r="5.15"/><circle cx="919.57" cy="733.20" r="5.15"/><circle cx="897.85" cy="763.28" r="5.15"/><circle cx="913.27" cy="743.94" r="5.15"/><circle cx="891.58" cy="774.06" r="5.15"/><circle cx="948.34" cy="708.60" r="5.15"/><circle cx="941.99" cy="719.42" r="5.15"/><circle cx="959.10" cy="701.48" r="5.15"/><circle cx="935.61" cy="730.24" r="5.15"/><circle cx="929.21" cy="741.07" r="5.15"/><circle cx="913.96" cy="760.62" r="5.15"/><circle cx="922.78" cy="751.92" r="5.15"/><circle cx="957.77" cy="716.88" r="5.15"/><circle cx="907.55" cy="771.53" r="5.15"/><circle cx="951.29" cy="727.79" r="5.15"/><circle cx="968.79" cy="710.29" r="5.15"/><circle cx="944.77" cy="738.73" r="5.15"/><circle cx="901.08" cy="782.49" r="5.15"/><circle cx="938.19" cy="749.70" r="5.15"/><circle cx="966.64" cy="725.75" r="5.15"/><circle cx="931.55" cy="760.69" r="5.15"/><circle cx="977.89" cy="719.71" r="5.15"/><circle cx="922.97" cy="769.64" r="5.15"/><circle cx="959.98" cy="736.80" r="5.15"/><circle cx="953.26" cy="747.89" r="5.15"/><circle cx="916.30" cy="780.78" r="5.15"/><circle cx="974.91" cy="735.19" r="5.15"/><circle cx="946.45" cy="759.02" r="5.15"/><circle cx="986.37" cy="729.69" r="5.15"/><circle cx="909.50" cy="792.01" r="5.15"/><circle cx="968.03" cy="746.39" r="5.15"/><circle cx="939.52" cy="770.20" r="5.15"/><circle cx="931.05" cy="779.50" r="5.15"/><circle cx="961.04" cy="757.65" r="5.15"/><circle cx="982.54" cy="745.15" r="5.15"/><circle cx="994.19" cy="740.19" r="5.15"/><circle cx="953.92" cy="768.97" r="5.15"/><circle cx="923.99" cy="790.93" r="5.15"/><circle cx="975.38" cy="756.52" r="5.15"/><circle cx="946.64" cy="780.36" r="5.15"/><circle cx="968.07" cy="767.97" r="5.15"/><circle cx="989.51" cy="755.58" r="5.15"/><circle cx="1001.32" cy="751.17" r="5.15"/><circle cx="916.71" cy="802.47" r="5.15"/><circle cx="938.13" cy="790.12" r="5.15"/><circle cx="960.58" cy="779.49" r="5.15"/><circle cx="982.02" cy="767.14" r="5.15"/><circle cx="995.78" cy="766.45" r="5.15"/><circle cx="930.55" cy="801.84" r="5.15"/><circle cx="974.32" cy="778.78" r="5.15"/><circle cx="952.84" cy="791.11" r="5.15"/><circle cx="1007.74" cy="762.59" r="5.15"/><circle cx="987.89" cy="778.20" r="5.15"/><circle cx="966.36" cy="790.52" r="5.15"/><circle cx="944.13" cy="801.37" r="5.15"/><circle cx="1001.33" cy="777.70" r="5.15"/><circle cx="922.60" cy="813.73" r="5.15"/></g>
<g fill="#8B954D"><circle cx="1013.40" cy="774.40" r="5.15"/><circle cx="979.73" cy="790.04" r="5.15"/><circle cx="958.08" cy="802.35" r="5.15"/><circle cx="992.98" cy="789.64" r="5.15"/><circle cx="935.88" cy="813.40" r="5.15"/><circle cx="971.24" cy="801.97" r="5.15"/><circle cx="1006.13" cy="789.30" r="5.15"/></g>
<g fill="#CB9865"><circle cx="1018.30" cy="786.54" r="5.15"/><circle cx="949.00" cy="813.16" r="5.15"/><circle cx="984.29" cy="801.66" r="5.15"/><circle cx="997.26" cy="801.40" r="5.15"/><circle cx="962.33" cy="814.01" r="5.15"/><circle cx="927.09" cy="825.61" r="5.15"/><circle cx="1010.16" cy="801.18" r="5.15"/><circle cx="1022.41" cy="798.98" r="5.15"/><circle cx="975.18" cy="813.78" r="5.15"/><circle cx="939.93" cy="825.47" r="5.15"/><circle cx="987.97" cy="813.59" r="5.15"/><circle cx="952.68" cy="825.37" r="5.15"/><circle cx="1000.70" cy="813.44" r="5.15"/><circle cx="1013.40" cy="813.30" r="5.15"/><circle cx="1025.72" cy="811.65" r="5.15"/><circle cx="965.54" cy="825.99" r="5.15"/><circle cx="978.16" cy="825.87" r="5.15"/><circle cx="990.74" cy="825.77" r="5.15"/><circle cx="930.12" cy="837.95" r="5.15"/><circle cx="1003.30" cy="825.68" r="5.15"/><circle cx="1015.84" cy="825.61" r="5.15"/><circle cx="942.65" cy="837.91" r="5.15"/><circle cx="1028.20" cy="824.51" r="5.15"/><circle cx="955.16" cy="837.88" r="5.15"/><circle cx="967.69" cy="838.21" r="5.15"/><circle cx="980.15" cy="838.16" r="5.15"/><circle cx="992.60" cy="838.12" r="5.15"/><circle cx="1005.04" cy="838.08" r="5.15"/></g>
<g fill="#C9C9C9"><circle cx="1017.47" cy="838.05" r="5.15"/><circle cx="1029.85" cy="837.50" r="5.15"/><circle cx="931.63" cy="850.57" r="5.15"/><circle cx="944.01" cy="850.57" r="5.15"/><circle cx="956.39" cy="850.57" r="5.15"/><circle cx="968.77" cy="850.57" r="5.15"/><circle cx="981.15" cy="850.57" r="5.15"/><circle cx="993.53" cy="850.57" r="5.15"/><circle cx="1005.91" cy="850.57" r="5.15"/><circle cx="1018.29" cy="850.57" r="5.15"/><circle cx="1030.67" cy="850.57" r="5.15"/></g>

<g fill="#8B1124"><circle cx="293.34" cy="1196.60" r="4.65"/><circle cx="304.43" cy="1196.60" r="4.65"/><circle cx="315.51" cy="1196.60" r="4.65"/><circle cx="326.60" cy="1196.60" r="4.65"/><circle cx="337.69" cy="1196.60" r="4.65"/><circle cx="348.77" cy="1196.60" r="4.65"/><circle cx="359.86" cy="1196.60" r="4.65"/><circle cx="370.94" cy="1196.60" r="4.65"/><circle cx="382.02" cy="1196.60" r="4.65"/><circle cx="393.11" cy="1196.60" r="4.65"/><circle cx="294.18" cy="1182.89" r="4.65"/><circle cx="305.32" cy="1182.74" r="4.65"/><circle cx="316.48" cy="1182.57" r="4.65"/><circle cx="327.61" cy="1182.75" r="4.65"/><circle cx="338.79" cy="1182.57" r="4.65"/><circle cx="349.93" cy="1182.77" r="4.65"/><circle cx="361.07" cy="1183.01" r="4.65"/><circle cx="372.30" cy="1182.80" r="4.65"/><circle cx="295.93" cy="1169.26" r="4.65"/><circle cx="383.56" cy="1182.54" r="4.65"/><circle cx="307.21" cy="1168.98" r="4.65"/><circle cx="318.53" cy="1168.66" r="4.65"/><circle cx="394.87" cy="1182.22" r="4.65"/><circle cx="329.74" cy="1169.03" r="4.65"/><circle cx="341.12" cy="1168.68" r="4.65"/><circle cx="352.37" cy="1169.11" r="4.65"/><circle cx="298.59" cy="1155.78" r="4.65"/><circle cx="363.63" cy="1169.60" r="4.65"/><circle cx="310.08" cy="1155.39" r="4.65"/><circle cx="321.63" cy="1154.95" r="4.65"/><circle cx="375.15" cy="1169.23" r="4.65"/><circle cx="332.97" cy="1155.53" r="4.65"/><circle cx="386.79" cy="1168.78" r="4.65"/><circle cx="302.15" cy="1142.51" r="4.65"/><circle cx="344.66" cy="1155.06" r="4.65"/><circle cx="313.91" cy="1142.04" r="4.65"/><circle cx="356.06" cy="1155.74" r="4.65"/><circle cx="398.59" cy="1168.22" r="4.65"/><circle cx="367.49" cy="1156.51" r="4.65"/><circle cx="325.79" cy="1141.52" r="4.65"/><circle cx="337.28" cy="1142.34" r="4.65"/><circle cx="306.59" cy="1129.51" r="4.65"/><circle cx="379.47" cy="1156.05" r="4.65"/><circle cx="349.37" cy="1141.79" r="4.65"/><circle cx="318.69" cy="1129.00" r="4.65"/><circle cx="360.98" cy="1142.76" r="4.65"/><circle cx="391.67" cy="1155.51" r="4.65"/><circle cx="330.96" cy="1128.45" r="4.65"/><circle cx="311.89" cy="1116.83" r="4.65"/><circle cx="372.63" cy="1143.86" r="4.65"/><circle cx="342.64" cy="1129.53" r="4.65"/><circle cx="324.39" cy="1116.34" r="4.65"/><circle cx="404.20" cy="1154.87" r="4.65"/><circle cx="355.24" cy="1128.99" r="4.65"/><circle cx="385.19" cy="1143.42" r="4.65"/><circle cx="337.13" cy="1115.81" r="4.65"/><circle cx="318.03" cy="1104.54" r="4.65"/><circle cx="367.08" cy="1130.30" r="4.65"/><circle cx="349.02" cy="1117.20" r="4.65"/><circle cx="330.99" cy="1104.12" r="4.65"/><circle cx="378.98" cy="1131.78" r="4.65"/><circle cx="398.13" cy="1142.93" r="4.65"/><circle cx="362.20" cy="1116.76" r="4.65"/><circle cx="324.98" cy="1092.69" r="4.65"/><circle cx="344.25" cy="1103.69" r="4.65"/><circle cx="392.25" cy="1131.48" r="4.65"/><circle cx="374.32" cy="1118.46" r="4.65"/><circle cx="356.38" cy="1105.43" r="4.65"/><circle cx="338.45" cy="1092.40" r="4.65"/><circle cx="411.60" cy="1142.41" r="4.65"/><circle cx="332.71" cy="1081.33" r="4.65"/><circle cx="386.50" cy="1120.39" r="4.65"/><circle cx="352.28" cy="1092.15" r="4.65"/><circle cx="370.21" cy="1105.18" r="4.65"/><circle cx="406.06" cy="1131.23" r="4.65"/><circle cx="346.72" cy="1081.25" r="4.65"/><circle cx="364.67" cy="1094.29" r="4.65"/><circle cx="382.62" cy="1107.34" r="4.65"/><circle cx="400.57" cy="1120.39" r="4.65"/><circle cx="341.19" cy="1070.52" r="4.65"/><circle cx="361.18" cy="1081.27" r="4.65"/><circle cx="395.10" cy="1109.79" r="4.65"/><circle cx="379.20" cy="1094.35" r="4.65"/><circle cx="420.63" cy="1131.09" r="4.65"/><circle cx="355.77" cy="1070.72" r="4.65"/><circle cx="373.83" cy="1083.86" r="4.65"/><circle cx="350.37" cy="1060.30" r="4.65"/><circle cx="415.36" cy="1120.58" r="4.65"/><circle cx="391.92" cy="1097.04" r="4.65"/><circle cx="370.88" cy="1071.09" r="4.65"/><circle cx="410.05" cy="1110.27" r="4.65"/><circle cx="365.56" cy="1060.86" r="4.65"/><circle cx="389.11" cy="1084.35" r="4.65"/><circle cx="404.71" cy="1100.10" r="4.65"/><circle cx="360.21" cy="1050.71" r="4.65"/><circle cx="383.80" cy="1074.20" r="4.65"/><circle cx="402.13" cy="1087.64" r="4.65"/><circle cx="381.34" cy="1061.70" r="4.65"/><circle cx="431.14" cy="1121.13" r="4.65"/><circle cx="376.02" cy="1051.73" r="4.65"/><circle cx="370.68" cy="1041.81" r="4.65"/><circle cx="425.89" cy="1111.14" r="4.65"/><circle cx="399.86" cy="1075.25" r="4.65"/><circle cx="420.58" cy="1101.24" r="4.65"/><circle cx="394.52" cy="1065.38" r="4.65"/><circle cx="415.23" cy="1091.40" r="4.65"/><circle cx="392.49" cy="1053.14" r="4.65"/><circle cx="387.12" cy="1043.38" r="4.65"/><circle cx="413.17" cy="1079.24" r="4.65"/><circle cx="381.72" cy="1033.63" r="4.65"/><circle cx="411.36" cy="1067.14" r="4.65"/><circle cx="405.92" cy="1057.46" r="4.65"/><circle cx="442.92" cy="1112.70" r="4.65"/><circle cx="437.49" cy="1103.05" r="4.65"/><circle cx="432.03" cy="1093.41" r="4.65"/><circle cx="426.55" cy="1083.78" r="4.65"/><circle cx="404.27" cy="1045.46" r="4.65"/><circle cx="398.78" cy="1035.84" r="4.65"/><circle cx="393.28" cy="1026.21" r="4.65"/><circle cx="424.94" cy="1071.89" r="4.65"/><circle cx="417.93" cy="1050.49" r="4.65"/><circle cx="423.53" cy="1060.06" r="4.65"/><circle cx="405.32" cy="1019.59" r="4.65"/><circle cx="410.95" cy="1029.15" r="4.65"/><circle cx="416.61" cy="1038.72" r="4.65"/><circle cx="438.57" cy="1077.31" r="4.65"/><circle cx="444.26" cy="1086.87" r="4.65"/><circle cx="449.98" cy="1096.42" r="4.65"/><circle cx="437.35" cy="1065.67" r="4.65"/><circle cx="455.75" cy="1105.97" r="4.65"/><circle cx="430.46" cy="1044.51" r="4.65"/><circle cx="417.77" cy="1013.78" r="4.65"/><circle cx="436.27" cy="1054.08" r="4.65"/><circle cx="423.58" cy="1023.36" r="4.65"/><circle cx="429.42" cy="1032.94" r="4.65"/><circle cx="451.17" cy="1072.05" r="4.65"/><circle cx="430.58" cy="1008.82" r="4.65"/><circle cx="457.12" cy="1081.70" r="4.65"/><circle cx="450.28" cy="1060.63" r="4.65"/><circle cx="443.43" cy="1039.56" r="4.65"/><circle cx="436.58" cy="1018.48" r="4.65"/><circle cx="442.65" cy="1028.16" r="4.65"/><circle cx="449.49" cy="1049.23" r="4.65"/><circle cx="463.18" cy="1091.37" r="4.65"/><circle cx="469.38" cy="1101.07" r="4.65"/><circle cx="443.70" cy="1004.74" r="4.65"/><circle cx="449.90" cy="1014.55" r="4.65"/><circle cx="464.22" cy="1068.07" r="4.65"/><circle cx="456.76" cy="1035.68" r="4.65"/><circle cx="463.62" cy="1056.81" r="4.65"/><circle cx="456.20" cy="1024.42" r="4.65"/><circle cx="463.09" cy="1045.57" r="4.65"/><circle cx="470.48" cy="1077.97" r="4.65"/><circle cx="457.06" cy="1001.54" r="4.65"/><circle cx="476.91" cy="1087.96" r="4.65"/><circle cx="463.47" cy="1011.59" r="4.65"/><circle cx="470.36" cy="1032.89" r="4.65"/><circle cx="470.00" cy="1021.73" r="4.65"/><circle cx="477.60" cy="1065.39" r="4.65"/><circle cx="477.26" cy="1054.25" r="4.65"/><circle cx="483.56" cy="1098.09" r="4.65"/><circle cx="470.61" cy="999.24" r="4.65"/><circle cx="476.95" cy="1043.11" r="4.65"/><circle cx="484.16" cy="1075.71" r="4.65"/><circle cx="477.21" cy="1009.60" r="4.65"/><circle cx="484.14" cy="1031.20" r="4.65"/><circle cx="483.96" cy="1020.10" r="4.65"/><circle cx="484.28" cy="997.86" r="4.65"/><circle cx="490.94" cy="1086.24" r="4.65"/><circle cx="491.19" cy="1064.04" r="4.65"/><circle cx="491.07" cy="1052.96" r="4.65"/><circle cx="490.97" cy="1041.88" r="4.65"/><circle cx="491.07" cy="1008.61" r="4.65"/><circle cx="498.01" cy="997.40" r="4.65"/><circle cx="498.01" cy="1019.56" r="4.65"/><circle cx="498.01" cy="1030.64" r="4.65"/><circle cx="498.01" cy="1074.95" r="4.65"/><circle cx="498.01" cy="1097.10" r="4.65"/><circle cx="504.95" cy="1008.61" r="4.65"/><circle cx="505.05" cy="1041.88" r="4.65"/><circle cx="504.95" cy="1052.96" r="4.65"/><circle cx="504.83" cy="1064.04" r="4.65"/><circle cx="505.08" cy="1086.24" r="4.65"/><circle cx="511.74" cy="997.86" r="4.65"/><circle cx="512.06" cy="1020.10" r="4.65"/><circle cx="511.88" cy="1031.20" r="4.65"/><circle cx="518.81" cy="1009.60" r="4.65"/><circle cx="511.86" cy="1075.71" r="4.65"/><circle cx="519.07" cy="1043.11" r="4.65"/><circle cx="525.41" cy="999.24" r="4.65"/><circle cx="512.46" cy="1098.09" r="4.65"/><circle cx="518.76" cy="1054.25" r="4.65"/><circle cx="518.42" cy="1065.39" r="4.65"/><circle cx="526.02" cy="1021.73" r="4.65"/><circle cx="525.66" cy="1032.89" r="4.65"/><circle cx="532.55" cy="1011.59" r="4.65"/><circle cx="519.11" cy="1087.96" r="4.65"/><circle cx="538.96" cy="1001.54" r="4.65"/><circle cx="525.54" cy="1077.97" r="4.65"/><circle cx="532.93" cy="1045.57" r="4.65"/><circle cx="539.82" cy="1024.42" r="4.65"/><circle cx="532.40" cy="1056.81" r="4.65"/><circle cx="539.26" cy="1035.68" r="4.65"/><circle cx="531.80" cy="1068.07" r="4.65"/><circle cx="546.12" cy="1014.55" r="4.65"/><circle cx="552.32" cy="1004.74" r="4.65"/><circle cx="526.64" cy="1101.07" r="4.65"/><circle cx="532.84" cy="1091.37" r="4.65"/><circle cx="546.53" cy="1049.23" r="4.65"/><circle cx="553.37" cy="1028.16" r="4.65"/><circle cx="559.44" cy="1018.48" r="4.65"/><circle cx="552.59" cy="1039.56" r="4.65"/><circle cx="545.74" cy="1060.63" r="4.65"/><circle cx="538.90" cy="1081.70" r="4.65"/><circle cx="565.44" cy="1008.82" r="4.65"/><circle cx="544.85" cy="1072.05" r="4.65"/><circle cx="566.60" cy="1032.94" r="4.65"/><circle cx="572.44" cy="1023.36" r="4.65"/><circle cx="559.75" cy="1054.08" r="4.65"/><circle cx="578.25" cy="1013.78" r="4.65"/><circle cx="565.56" cy="1044.51" r="4.65"/><circle cx="540.27" cy="1105.97" r="4.65"/><circle cx="558.67" cy="1065.67" r="4.65"/><circle cx="546.04" cy="1096.42" r="4.65"/><circle cx="551.76" cy="1086.87" r="4.65"/><circle cx="557.45" cy="1077.31" r="4.65"/><circle cx="579.41" cy="1038.72" r="4.65"/><circle cx="585.07" cy="1029.15" r="4.65"/><circle cx="590.70" cy="1019.59" r="4.65"/><circle cx="572.49" cy="1060.06" r="4.65"/><circle cx="578.09" cy="1050.49" r="4.65"/><circle cx="571.08" cy="1071.89" r="4.65"/><circle cx="602.74" cy="1026.21" r="4.65"/><circle cx="597.24" cy="1035.84" r="4.65"/><circle cx="591.75" cy="1045.46" r="4.65"/><circle cx="569.47" cy="1083.78" r="4.65"/><circle cx="563.99" cy="1093.41" r="4.65"/><circle cx="558.53" cy="1103.05" r="4.65"/><circle cx="553.10" cy="1112.70" r="4.65"/><circle cx="590.10" cy="1057.46" r="4.65"/><circle cx="584.66" cy="1067.14" r="4.65"/><circle cx="614.30" cy="1033.63" r="4.65"/><circle cx="582.85" cy="1079.24" r="4.65"/><circle cx="608.90" cy="1043.38" r="4.65"/><circle cx="603.53" cy="1053.14" r="4.65"/><circle cx="580.79" cy="1091.40" r="4.65"/><circle cx="601.50" cy="1065.38" r="4.65"/><circle cx="575.44" cy="1101.24" r="4.65"/><circle cx="596.16" cy="1075.25" r="4.65"/><circle cx="570.13" cy="1111.14" r="4.65"/><circle cx="625.34" cy="1041.81" r="4.65"/><circle cx="620.00" cy="1051.73" r="4.65"/><circle cx="564.88" cy="1121.13" r="4.65"/><circle cx="614.68" cy="1061.70" r="4.65"/><circle cx="593.89" cy="1087.64" r="4.65"/><circle cx="612.22" cy="1074.20" r="4.65"/><circle cx="635.81" cy="1050.71" r="4.65"/><circle cx="591.31" cy="1100.10" r="4.65"/><circle cx="606.91" cy="1084.35" r="4.65"/><circle cx="630.46" cy="1060.86" r="4.65"/><circle cx="585.97" cy="1110.27" r="4.65"/><circle cx="625.14" cy="1071.09" r="4.65"/><circle cx="604.10" cy="1097.04" r="4.65"/><circle cx="580.66" cy="1120.58" r="4.65"/><circle cx="645.65" cy="1060.30" r="4.65"/><circle cx="622.19" cy="1083.86" r="4.65"/><circle cx="640.25" cy="1070.72" r="4.65"/><circle cx="575.39" cy="1131.09" r="4.65"/><circle cx="616.82" cy="1094.35" r="4.65"/><circle cx="600.92" cy="1109.79" r="4.65"/><circle cx="634.84" cy="1081.27" r="4.65"/><circle cx="654.83" cy="1070.52" r="4.65"/></g>
<g fill="#CB9865"><circle cx="595.45" cy="1120.39" r="4.65"/><circle cx="613.40" cy="1107.34" r="4.65"/><circle cx="631.35" cy="1094.29" r="4.65"/><circle cx="649.30" cy="1081.25" r="4.65"/><circle cx="589.96" cy="1131.23" r="4.65"/><circle cx="625.81" cy="1105.18" r="4.65"/><circle cx="643.74" cy="1092.15" r="4.65"/><circle cx="609.52" cy="1120.39" r="4.65"/><circle cx="663.31" cy="1081.33" r="4.65"/><circle cx="584.42" cy="1142.41" r="4.65"/><circle cx="657.57" cy="1092.40" r="4.65"/><circle cx="639.64" cy="1105.43" r="4.65"/><circle cx="621.70" cy="1118.46" r="4.65"/></g>
<g fill="#BE1E96"><circle cx="603.77" cy="1131.48" r="4.65"/></g>
<g fill="#A030A8"><circle cx="651.77" cy="1103.69" r="4.65"/></g>
<g fill="#9BCBCB"><circle cx="671.04" cy="1092.69" r="4.65"/></g>
<g fill="#7B6FE8"><circle cx="633.82" cy="1116.76" r="4.65"/></g>
<g fill="#E84C00"><circle cx="597.89" cy="1142.93" r="4.65"/><circle cx="617.04" cy="1131.78" r="4.65"/><circle cx="665.03" cy="1104.12" r="4.65"/><circle cx="647.00" cy="1117.20" r="4.65"/><circle cx="628.94" cy="1130.30" r="4.65"/><circle cx="677.99" cy="1104.54" r="4.65"/><circle cx="658.89" cy="1115.81" r="4.65"/><circle cx="610.83" cy="1143.42" r="4.65"/><circle cx="640.78" cy="1128.99" r="4.65"/><circle cx="591.82" cy="1154.87" r="4.65"/><circle cx="671.63" cy="1116.34" r="4.65"/><circle cx="653.38" cy="1129.53" r="4.65"/><circle cx="623.39" cy="1143.86" r="4.65"/><circle cx="684.13" cy="1116.83" r="4.65"/><circle cx="665.06" cy="1128.45" r="4.65"/><circle cx="604.35" cy="1155.51" r="4.65"/><circle cx="635.04" cy="1142.76" r="4.65"/><circle cx="677.33" cy="1129.00" r="4.65"/><circle cx="646.65" cy="1141.79" r="4.65"/><circle cx="616.55" cy="1156.05" r="4.65"/><circle cx="689.43" cy="1129.51" r="4.65"/><circle cx="658.74" cy="1142.34" r="4.65"/><circle cx="670.23" cy="1141.52" r="4.65"/><circle cx="628.53" cy="1156.51" r="4.65"/><circle cx="597.43" cy="1168.22" r="4.65"/><circle cx="639.96" cy="1155.74" r="4.65"/><circle cx="682.11" cy="1142.04" r="4.65"/><circle cx="651.36" cy="1155.06" r="4.65"/><circle cx="693.87" cy="1142.51" r="4.65"/><circle cx="609.23" cy="1168.78" r="4.65"/><circle cx="663.05" cy="1155.53" r="4.65"/><circle cx="620.87" cy="1169.23" r="4.65"/><circle cx="674.39" cy="1154.95" r="4.65"/><circle cx="685.94" cy="1155.39" r="4.65"/><circle cx="632.39" cy="1169.60" r="4.65"/><circle cx="697.43" cy="1155.78" r="4.65"/><circle cx="643.65" cy="1169.11" r="4.65"/><circle cx="654.90" cy="1168.68" r="4.65"/><circle cx="666.28" cy="1169.03" r="4.65"/><circle cx="601.15" cy="1182.22" r="4.65"/><circle cx="677.49" cy="1168.66" r="4.65"/><circle cx="688.81" cy="1168.98" r="4.65"/><circle cx="612.46" cy="1182.54" r="4.65"/><circle cx="700.09" cy="1169.26" r="4.65"/><circle cx="623.72" cy="1182.80" r="4.65"/><circle cx="634.95" cy="1183.01" r="4.65"/><circle cx="646.09" cy="1182.77" r="4.65"/><circle cx="657.23" cy="1182.57" r="4.65"/><circle cx="668.41" cy="1182.75" r="4.65"/><circle cx="679.54" cy="1182.57" r="4.65"/><circle cx="690.70" cy="1182.74" r="4.65"/><circle cx="701.84" cy="1182.89" r="4.65"/><circle cx="602.91" cy="1196.60" r="4.65"/><circle cx="614.00" cy="1196.60" r="4.65"/><circle cx="625.08" cy="1196.60" r="4.65"/><circle cx="636.16" cy="1196.60" r="4.65"/><circle cx="647.25" cy="1196.60" r="4.65"/><circle cx="658.34" cy="1196.60" r="4.65"/><circle cx="669.42" cy="1196.60" r="4.65"/><circle cx="680.50" cy="1196.60" r="4.65"/><circle cx="691.59" cy="1196.60" r="4.65"/><circle cx="702.67" cy="1196.60" r="4.65"/></g>

<rect x="101.50" y="522.50" width="21.00" height="20.50" fill="#8B954D"/>
<rect x="101.50" y="554.00" width="21.00" height="21.00" fill="#B55E5E"/>
<rect x="249.00" y="522.50" width="21.00" height="20.50" fill="#E9C76F"/>
<rect x="249.00" y="557.00" width="21.00" height="21.00" fill="#6DA193"/>
<rect x="409.00" y="522.50" width="21.00" height="20.50" fill="#C9C9C9"/>
<rect x="646.25" y="535.00" width="20.75" height="20.75" fill="#B55E5E"/>
<rect x="646.25" y="563.75" width="20.75" height="20.75" fill="#8B954D"/>
<rect x="793.75" y="531.75" width="20.75" height="20.25" fill="#CB9865"/>
<rect x="793.75" y="563.00" width="20.75" height="20.75" fill="#6DA193"/>
<rect x="953.75" y="531.75" width="20.75" height="20.25" fill="#C9C9C9"/>
<rect x="122.50" y="923.00" width="20.75" height="20.75" fill="#B55E5E"/>
<rect x="122.50" y="955.00" width="20.75" height="20.75" fill="#CB9865"/>
<rect x="270.00" y="921.25" width="20.75" height="20.75" fill="#C93166"/>
<rect x="270.00" y="953.75" width="20.75" height="20.50" fill="#336868"/>
<rect x="430.00" y="920.00" width="20.75" height="20.50" fill="#C9C9C9"/>
<rect x="730.30" y="922.80" width="20.90" height="21.20" fill="#B55E5E"/>
<rect x="730.30" y="951.80" width="20.90" height="20.60" fill="#8B954D"/>
<rect x="878.00" y="920.00" width="20.75" height="20.50" fill="#CB9865"/>
<rect x="878.00" y="949.50" width="20.75" height="21.00" fill="#C9C9C9"/>
<rect x="763.90" y="1058.70" width="21.30" height="21.30" fill="#B55E5E"/>
<rect x="763.90" y="1087.90" width="21.30" height="20.70" fill="#E84C00"/>
<rect x="763.90" y="1117.30" width="21.30" height="21.30" fill="#CB9865"/>
<rect x="763.90" y="1148.60" width="21.30" height="20.90" fill="#C9C9C9"/>
<rect x="763.90" y="1177.40" width="21.30" height="20.80" fill="#9BCBCB"/>
<text x="151.71" y="90.30" font-size="44.91" textLength="287.08" lengthAdjust="spacingAndGlyphs" style="font-family:'Liberation Sans', sans-serif;font-weight:bold;font-style:normal;fill:#CF213A;stroke:#CF213A;stroke-width:1.2">Bangladesh</text>
<text x="449.85" y="90.30" font-size="44.91" textLength="101.40" lengthAdjust="spacingAndGlyphs" style="font-family:'Liberation Sans', sans-serif;font-weight:bold;font-style:normal;fill:#CF213A;stroke:#CF213A;stroke-width:1.2">past</text>
<text x="565.62" y="90.30" font-size="44.91" textLength="191.93" lengthAdjust="spacingAndGlyphs" style="font-family:'Liberation Sans', sans-serif;font-weight:bold;font-style:normal;fill:#CF213A;stroke:#CF213A;stroke-width:1.2">election</text>
<text x="771.89" y="90.30" font-size="44.91" textLength="159.50" lengthAdjust="spacingAndGlyphs" style="font-family:'Liberation Sans', sans-serif;font-weight:bold;font-style:normal;fill:#CF213A;stroke:#CF213A;stroke-width:1.2">results</text>
<text x="164.16" y="140.50" font-size="24.56" textLength="169.13" lengthAdjust="spacingAndGlyphs" style="font-family:'Liberation Sans', sans-serif;font-weight:normal;font-style:normal;fill:#1F2A3A;stroke:#1F2A3A;stroke-width:0.45">Bangladesh’s</text>
<text x="340.26" y="140.50" font-size="24.56" textLength="108.44" lengthAdjust="spacingAndGlyphs" style="font-family:'Liberation Sans', sans-serif;font-weight:normal;font-style:normal;fill:#1F2A3A;stroke:#1F2A3A;stroke-width:0.45">electoral</text>
<text x="455.25" y="140.50" font-size="24.56" textLength="84.09" lengthAdjust="spacingAndGlyphs" style="font-family:'Liberation Sans', sans-serif;font-weight:normal;font-style:normal;fill:#1F2A3A;stroke:#1F2A3A;stroke-width:0.45">history</text>
<text x="548.41" y="140.50" font-size="24.56" textLength="42.32" lengthAdjust="spacingAndGlyphs" style="font-family:'Liberation Sans', sans-serif;font-weight:normal;font-style:normal;fill:#1F2A3A;stroke:#1F2A3A;stroke-width:0.45">has</text>
<text x="599.60" y="140.50" font-size="24.56" textLength="64.55" lengthAdjust="spacingAndGlyphs" style="font-family:'Liberation Sans', sans-serif;font-weight:normal;font-style:normal;fill:#1F2A3A;stroke:#1F2A3A;stroke-width:0.45">been</text>
<text x="670.48" y="140.50" font-size="24.56" textLength="13.05" lengthAdjust="spacingAndGlyphs" style="font-family:'Liberation Sans', sans-serif;font-weight:normal;font-style:normal;fill:#1F2A3A;stroke:#1F2A3A;stroke-width:0.45">a</text>
<text x="691.89" y="140.50" font-size="24.56" textLength="106.21" lengthAdjust="spacingAndGlyphs" style="font-family:'Liberation Sans', sans-serif;font-weight:normal;font-style:normal;fill:#1F2A3A;stroke:#1F2A3A;stroke-width:0.45">struggle</text>
<text x="805.28" y="140.50" font-size="24.56" textLength="113.95" lengthAdjust="spacingAndGlyphs" style="font-family:'Liberation Sans', sans-serif;font-weight:normal;font-style:normal;fill:#1F2A3A;stroke:#1F2A3A;stroke-width:0.45">between</text>
<text x="139.28" y="180.00" font-size="24.56" textLength="40.54" lengthAdjust="spacingAndGlyphs" style="font-family:'Liberation Sans', sans-serif;font-weight:normal;font-style:normal;fill:#1F2A3A;stroke:#1F2A3A;stroke-width:0.45">the</text>
<text x="187.17" y="180.00" font-size="24.56" textLength="89.62" lengthAdjust="spacingAndGlyphs" style="font-family:'Liberation Sans', sans-serif;font-weight:normal;font-style:normal;fill:#1F2A3A;stroke:#1F2A3A;stroke-width:0.45">Awami</text>
<text x="282.46" y="180.00" font-size="24.56" textLength="92.30" lengthAdjust="spacingAndGlyphs" style="font-family:'Liberation Sans', sans-serif;font-weight:normal;font-style:normal;fill:#1F2A3A;stroke:#1F2A3A;stroke-width:0.45">League</text>
<text x="382.70" y="180.00" font-size="24.56" textLength="50.27" lengthAdjust="spacingAndGlyphs" style="font-family:'Liberation Sans', sans-serif;font-weight:normal;font-style:normal;fill:#1F2A3A;stroke:#1F2A3A;stroke-width:0.45">and</text>
<text x="439.76" y="180.00" font-size="24.56" textLength="42.63" lengthAdjust="spacingAndGlyphs" style="font-family:'Liberation Sans', sans-serif;font-weight:normal;font-style:normal;fill:#1F2A3A;stroke:#1F2A3A;stroke-width:0.45">the</text>
<text x="489.11" y="180.00" font-size="24.56" textLength="152.54" lengthAdjust="spacingAndGlyphs" style="font-family:'Liberation Sans', sans-serif;font-weight:normal;font-style:normal;fill:#1F2A3A;stroke:#1F2A3A;stroke-width:0.45">Bangladesh</text>
<text x="649.12" y="180.00" font-size="24.56" textLength="133.86" lengthAdjust="spacingAndGlyphs" style="font-family:'Liberation Sans', sans-serif;font-weight:normal;font-style:normal;fill:#1F2A3A;stroke:#1F2A3A;stroke-width:0.45">Nationalist</text>
<text x="792.51" y="180.00" font-size="24.56" textLength="63.07" lengthAdjust="spacingAndGlyphs" style="font-family:'Liberation Sans', sans-serif;font-weight:normal;font-style:normal;fill:#1F2A3A;stroke:#1F2A3A;stroke-width:0.45">Party</text>
<text x="864.80" y="180.00" font-size="24.56" textLength="81.20" lengthAdjust="spacingAndGlyphs" style="font-family:'Liberation Sans', sans-serif;font-weight:normal;font-style:normal;fill:#1F2A3A;stroke:#1F2A3A;stroke-width:0.45">(BNP).</text>
<text x="48.95" y="306.10" font-size="30.07" textLength="67.60" lengthAdjust="spacingAndGlyphs" style="font-family:'Liberation Sans', sans-serif;font-weight:bold;font-style:normal;fill:#000">2001</text>
<text x="581.89" y="306.40" font-size="30.77" textLength="77.79" lengthAdjust="spacingAndGlyphs" style="font-family:'Liberation Sans', sans-serif;font-weight:bold;font-style:normal;fill:#000">2008</text>
<text x="68.43" y="691.25" font-size="29.02" textLength="68.74" lengthAdjust="spacingAndGlyphs" style="font-family:'Liberation Sans', sans-serif;font-weight:bold;font-style:normal;fill:#000">2014</text>
<text x="601.53" y="691.60" font-size="29.23" textLength="68.72" lengthAdjust="spacingAndGlyphs" style="font-family:'Liberation Sans', sans-serif;font-weight:bold;font-style:normal;fill:#000">2018</text>
<text x="243.84" y="1059.50" font-size="29.02" textLength="74.34" lengthAdjust="spacingAndGlyphs" style="font-family:'Liberation Sans', sans-serif;font-weight:bold;font-style:normal;fill:#000">2024</text>
<text x="231.63" y="474.30" font-size="50.00" textLength="99.29" lengthAdjust="spacingAndGlyphs" style="font-family:'Liberation Sans', sans-serif;font-weight:normal;font-style:normal;fill:#000;stroke:#000;stroke-width:1.8">300</text>
<text x="759.95" y="468.75" font-size="49.78" textLength="96.59" lengthAdjust="spacingAndGlyphs" style="font-family:'Liberation Sans', sans-serif;font-weight:normal;font-style:normal;fill:#000;stroke:#000;stroke-width:1.8">345</text>
<text x="241.62" y="855.00" font-size="49.71" textLength="95.69" lengthAdjust="spacingAndGlyphs" style="font-family:'Liberation Sans', sans-serif;font-weight:normal;font-style:normal;fill:#000;stroke:#000;stroke-width:1.8">345</text>
<text x="779.75" y="850.20" font-size="49.56" textLength="94.05" lengthAdjust="spacingAndGlyphs" style="font-family:'Liberation Sans', sans-serif;font-weight:normal;font-style:normal;fill:#000;stroke:#000;stroke-width:1.8">350</text>
<text x="450.75" y="1195.20" font-size="49.56" textLength="94.26" lengthAdjust="spacingAndGlyphs" style="font-family:'Liberation Sans', sans-serif;font-weight:normal;font-style:normal;fill:#000;stroke:#000;stroke-width:1.8">350</text>
<text x="131.46" y="503.75" font-size="19.30" textLength="64.55" lengthAdjust="spacingAndGlyphs" style="font-family:'Liberation Serif', serif;font-weight:normal;font-style:italic;fill:#111;stroke:#111;stroke-width:0.5">Reserve</text>
<text x="201.18" y="503.75" font-size="19.30" textLength="69.46" lengthAdjust="spacingAndGlyphs" style="font-family:'Liberation Serif', serif;font-weight:normal;font-style:italic;fill:#111;stroke:#111;stroke-width:0.5">women’s</text>
<text x="276.40" y="503.75" font-size="19.30" textLength="40.66" lengthAdjust="spacingAndGlyphs" style="font-family:'Liberation Serif', serif;font-weight:normal;font-style:italic;fill:#111;stroke:#111;stroke-width:0.5">seats</text>
<text x="321.23" y="503.75" font-size="19.30" textLength="29.87" lengthAdjust="spacingAndGlyphs" style="font-family:'Liberation Serif', serif;font-weight:normal;font-style:italic;fill:#111;stroke:#111;stroke-width:0.5">had</text>
<text x="356.62" y="503.75" font-size="19.30" textLength="61.08" lengthAdjust="spacingAndGlyphs" style="font-family:'Liberation Serif', serif;font-weight:normal;font-style:italic;fill:#111;stroke:#111;stroke-width:0.5">expired</text>
<text x="595.87" y="506.25" font-size="17.50" textLength="8.19" lengthAdjust="spacingAndGlyphs" style="font-family:'Liberation Serif', serif;font-weight:normal;font-style:italic;fill:#111;stroke:#111;stroke-width:0.5">3</text>
<text x="605.08" y="503.75" font-size="13.40" textLength="19.92" lengthAdjust="spacingAndGlyphs" style="font-family:'Liberation Serif', serif;font-weight:normal;font-style:italic;fill:#111;stroke:#111;stroke-width:0.5">00</text>
<text x="631.27" y="503.75" font-size="19.30" textLength="37.80" lengthAdjust="spacingAndGlyphs" style="font-family:'Liberation Serif', serif;font-weight:normal;font-style:italic;fill:#111;stroke:#111;stroke-width:0.5">seats</text>
<text x="673.43" y="503.75" font-size="19.30" textLength="57.56" lengthAdjust="spacingAndGlyphs" style="font-family:'Liberation Serif', serif;font-weight:normal;font-style:italic;fill:#111;stroke:#111;stroke-width:0.5">directly</text>
<text x="736.69" y="503.75" font-size="19.30" textLength="56.21" lengthAdjust="spacingAndGlyphs" style="font-family:'Liberation Serif', serif;font-weight:normal;font-style:italic;fill:#111;stroke:#111;stroke-width:0.5">elected,</text>
<text x="797.90" y="506.95" font-size="19.30" textLength="18.91" lengthAdjust="spacingAndGlyphs" style="font-family:'Liberation Serif', serif;font-weight:normal;font-style:italic;fill:#111;stroke:#111;stroke-width:0.5">45</text>
<text x="821.27" y="503.75" font-size="19.30" textLength="37.80" lengthAdjust="spacingAndGlyphs" style="font-family:'Liberation Serif', serif;font-weight:normal;font-style:italic;fill:#111;stroke:#111;stroke-width:0.5">seats</text>
<text x="863.45" y="503.75" font-size="19.30" textLength="68.76" lengthAdjust="spacingAndGlyphs" style="font-family:'Liberation Serif', serif;font-weight:normal;font-style:italic;fill:#111;stroke:#111;stroke-width:0.5">allocated</text>
<text x="937.45" y="503.75" font-size="19.30" textLength="14.09" lengthAdjust="spacingAndGlyphs" style="font-family:'Liberation Serif', serif;font-weight:normal;font-style:italic;fill:#111;stroke:#111;stroke-width:0.5">to</text>
<text x="957.77" y="503.75" font-size="19.30" textLength="57.32" lengthAdjust="spacingAndGlyphs" style="font-family:'Liberation Serif', serif;font-weight:normal;font-style:italic;fill:#111;stroke:#111;stroke-width:0.5">women</text>
<text x="80.12" y="888.00" font-size="17.50" textLength="8.19" lengthAdjust="spacingAndGlyphs" style="font-family:'Liberation Serif', serif;font-weight:normal;font-style:italic;fill:#111;stroke:#111;stroke-width:0.5">3</text>
<text x="89.33" y="885.50" font-size="13.40" textLength="19.92" lengthAdjust="spacingAndGlyphs" style="font-family:'Liberation Serif', serif;font-weight:normal;font-style:italic;fill:#111;stroke:#111;stroke-width:0.5">00</text>
<text x="115.52" y="885.50" font-size="19.30" textLength="37.80" lengthAdjust="spacingAndGlyphs" style="font-family:'Liberation Serif', serif;font-weight:normal;font-style:italic;fill:#111;stroke:#111;stroke-width:0.5">seats</text>
<text x="157.68" y="885.50" font-size="19.30" textLength="57.56" lengthAdjust="spacingAndGlyphs" style="font-family:'Liberation Serif', serif;font-weight:normal;font-style:italic;fill:#111;stroke:#111;stroke-width:0.5">directly</text>
<text x="220.94" y="885.50" font-size="19.30" textLength="56.21" lengthAdjust="spacingAndGlyphs" style="font-family:'Liberation Serif', serif;font-weight:normal;font-style:italic;fill:#111;stroke:#111;stroke-width:0.5">elected,</text>
<text x="282.15" y="888.70" font-size="19.30" textLength="18.91" lengthAdjust="spacingAndGlyphs" style="font-family:'Liberation Serif', serif;font-weight:normal;font-style:italic;fill:#111;stroke:#111;stroke-width:0.5">45</text>
<text x="305.52" y="885.50" font-size="19.30" textLength="37.80" lengthAdjust="spacingAndGlyphs" style="font-family:'Liberation Serif', serif;font-weight:normal;font-style:italic;fill:#111;stroke:#111;stroke-width:0.5">seats</text>
<text x="347.70" y="885.50" font-size="19.30" textLength="68.76" lengthAdjust="spacingAndGlyphs" style="font-family:'Liberation Serif', serif;font-weight:normal;font-style:italic;fill:#111;stroke:#111;stroke-width:0.5">allocated</text>
<text x="421.70" y="885.50" font-size="19.30" textLength="14.09" lengthAdjust="spacingAndGlyphs" style="font-family:'Liberation Serif', serif;font-weight:normal;font-style:italic;fill:#111;stroke:#111;stroke-width:0.5">to</text>
<text x="442.02" y="885.50" font-size="19.30" textLength="57.32" lengthAdjust="spacingAndGlyphs" style="font-family:'Liberation Serif', serif;font-weight:normal;font-style:italic;fill:#111;stroke:#111;stroke-width:0.5">women</text>
<text x="199.67" y="909.40" font-size="19.30" textLength="35.96" lengthAdjust="spacingAndGlyphs" style="font-family:'Liberation Serif', serif;font-weight:normal;font-style:italic;fill:#111;stroke:#111;stroke-width:0.5">BNP</text>
<text x="239.15" y="909.40" font-size="19.30" textLength="73.66" lengthAdjust="spacingAndGlyphs" style="font-family:'Liberation Serif', serif;font-weight:normal;font-style:italic;fill:#111;stroke:#111;stroke-width:0.5">boycotted</text>
<text x="318.12" y="909.40" font-size="19.30" textLength="22.95" lengthAdjust="spacingAndGlyphs" style="font-family:'Liberation Serif', serif;font-weight:normal;font-style:italic;fill:#111;stroke:#111;stroke-width:0.5">the</text>
<text x="346.49" y="909.40" font-size="19.30" textLength="32.20" lengthAdjust="spacingAndGlyphs" style="font-family:'Liberation Serif', serif;font-weight:normal;font-style:italic;fill:#111;stroke:#111;stroke-width:0.5">vote</text>
<text x="615.27" y="885.90" font-size="17.50" textLength="8.19" lengthAdjust="spacingAndGlyphs" style="font-family:'Liberation Serif', serif;font-weight:normal;font-style:italic;fill:#111;stroke:#111;stroke-width:0.5">3</text>
<text x="624.48" y="883.40" font-size="13.40" textLength="19.92" lengthAdjust="spacingAndGlyphs" style="font-family:'Liberation Serif', serif;font-weight:normal;font-style:italic;fill:#111;stroke:#111;stroke-width:0.5">00</text>
<text x="650.67" y="883.40" font-size="19.30" textLength="37.80" lengthAdjust="spacingAndGlyphs" style="font-family:'Liberation Serif', serif;font-weight:normal;font-style:italic;fill:#111;stroke:#111;stroke-width:0.5">seats</text>
<text x="692.83" y="883.40" font-size="19.30" textLength="57.56" lengthAdjust="spacingAndGlyphs" style="font-family:'Liberation Serif', serif;font-weight:normal;font-style:italic;fill:#111;stroke:#111;stroke-width:0.5">directly</text>
<text x="756.09" y="883.40" font-size="19.30" textLength="56.21" lengthAdjust="spacingAndGlyphs" style="font-family:'Liberation Serif', serif;font-weight:normal;font-style:italic;fill:#111;stroke:#111;stroke-width:0.5">elected,</text>
<text x="816.02" y="886.60" font-size="19.30" textLength="10.67" lengthAdjust="spacingAndGlyphs" style="font-family:'Liberation Serif', serif;font-weight:normal;font-style:italic;fill:#111;stroke:#111;stroke-width:0.5">5</text>
<text x="825.93" y="883.40" font-size="13.40" textLength="10.59" lengthAdjust="spacingAndGlyphs" style="font-family:'Liberation Serif', serif;font-weight:normal;font-style:italic;fill:#111;stroke:#111;stroke-width:0.5">0</text>
<text x="840.67" y="883.40" font-size="19.30" textLength="37.80" lengthAdjust="spacingAndGlyphs" style="font-family:'Liberation Serif', serif;font-weight:normal;font-style:italic;fill:#111;stroke:#111;stroke-width:0.5">seats</text>
<text x="882.85" y="883.40" font-size="19.30" textLength="68.76" lengthAdjust="spacingAndGlyphs" style="font-family:'Liberation Serif', serif;font-weight:normal;font-style:italic;fill:#111;stroke:#111;stroke-width:0.5">allocated</text>
<text x="956.85" y="883.40" font-size="19.30" textLength="14.09" lengthAdjust="spacingAndGlyphs" style="font-family:'Liberation Serif', serif;font-weight:normal;font-style:italic;fill:#111;stroke:#111;stroke-width:0.5">to</text>
<text x="977.17" y="883.40" font-size="19.30" textLength="57.32" lengthAdjust="spacingAndGlyphs" style="font-family:'Liberation Serif', serif;font-weight:normal;font-style:italic;fill:#111;stroke:#111;stroke-width:0.5">women</text>
<text x="288.37" y="1233.75" font-size="17.50" textLength="8.19" lengthAdjust="spacingAndGlyphs" style="font-family:'Liberation Serif', serif;font-weight:normal;font-style:italic;fill:#111;stroke:#111;stroke-width:0.5">3</text>
<text x="297.58" y="1231.25" font-size="13.40" textLength="19.92" lengthAdjust="spacingAndGlyphs" style="font-family:'Liberation Serif', serif;font-weight:normal;font-style:italic;fill:#111;stroke:#111;stroke-width:0.5">00</text>
<text x="323.77" y="1231.25" font-size="19.30" textLength="37.80" lengthAdjust="spacingAndGlyphs" style="font-family:'Liberation Serif', serif;font-weight:normal;font-style:italic;fill:#111;stroke:#111;stroke-width:0.5">seats</text>
<text x="365.93" y="1231.25" font-size="19.30" textLength="57.56" lengthAdjust="spacingAndGlyphs" style="font-family:'Liberation Serif', serif;font-weight:normal;font-style:italic;fill:#111;stroke:#111;stroke-width:0.5">directly</text>
<text x="429.19" y="1231.25" font-size="19.30" textLength="56.21" lengthAdjust="spacingAndGlyphs" style="font-family:'Liberation Serif', serif;font-weight:normal;font-style:italic;fill:#111;stroke:#111;stroke-width:0.5">elected,</text>
<text x="489.12" y="1234.45" font-size="19.30" textLength="10.67" lengthAdjust="spacingAndGlyphs" style="font-family:'Liberation Serif', serif;font-weight:normal;font-style:italic;fill:#111;stroke:#111;stroke-width:0.5">5</text>
<text x="499.03" y="1231.25" font-size="13.40" textLength="10.59" lengthAdjust="spacingAndGlyphs" style="font-family:'Liberation Serif', serif;font-weight:normal;font-style:italic;fill:#111;stroke:#111;stroke-width:0.5">0</text>
<text x="513.77" y="1231.25" font-size="19.30" textLength="37.80" lengthAdjust="spacingAndGlyphs" style="font-family:'Liberation Serif', serif;font-weight:normal;font-style:italic;fill:#111;stroke:#111;stroke-width:0.5">seats</text>
<text x="555.95" y="1231.25" font-size="19.30" textLength="68.76" lengthAdjust="spacingAndGlyphs" style="font-family:'Liberation Serif', serif;font-weight:normal;font-style:italic;fill:#111;stroke:#111;stroke-width:0.5">allocated</text>
<text x="629.95" y="1231.25" font-size="19.30" textLength="14.09" lengthAdjust="spacingAndGlyphs" style="font-family:'Liberation Serif', serif;font-weight:normal;font-style:italic;fill:#111;stroke:#111;stroke-width:0.5">to</text>
<text x="650.27" y="1231.25" font-size="19.30" textLength="57.32" lengthAdjust="spacingAndGlyphs" style="font-family:'Liberation Serif', serif;font-weight:normal;font-style:italic;fill:#111;stroke:#111;stroke-width:0.5">women</text>
<text x="408.37" y="1258.75" font-size="19.30" textLength="35.96" lengthAdjust="spacingAndGlyphs" style="font-family:'Liberation Serif', serif;font-weight:normal;font-style:italic;fill:#111;stroke:#111;stroke-width:0.5">BNP</text>
<text x="447.85" y="1258.75" font-size="19.30" textLength="73.66" lengthAdjust="spacingAndGlyphs" style="font-family:'Liberation Serif', serif;font-weight:normal;font-style:italic;fill:#111;stroke:#111;stroke-width:0.5">boycotted</text>
<text x="526.82" y="1258.75" font-size="19.30" textLength="22.95" lengthAdjust="spacingAndGlyphs" style="font-family:'Liberation Serif', serif;font-weight:normal;font-style:italic;fill:#111;stroke:#111;stroke-width:0.5">the</text>
<text x="555.19" y="1258.75" font-size="19.30" textLength="32.20" lengthAdjust="spacingAndGlyphs" style="font-family:'Liberation Serif', serif;font-weight:normal;font-style:italic;fill:#111;stroke:#111;stroke-width:0.5">vote</text>
<text x="63.09" y="537.00" font-size="18.53" textLength="30.83" lengthAdjust="spacingAndGlyphs" style="font-family:'Liberation Sans', sans-serif;font-weight:bold;font-style:normal;fill:#000">193</text>
<text x="130.00" y="537.00" font-size="13.40" textLength="28.31" lengthAdjust="spacingAndGlyphs" style="font-family:'Liberation Sans', sans-serif;font-weight:bold;font-style:normal;fill:#000;stroke:#000;stroke-width:0.3">BNP</text>
<text x="69.70" y="570.00" font-size="18.18" textLength="24.43" lengthAdjust="spacingAndGlyphs" style="font-family:'Liberation Sans', sans-serif;font-weight:bold;font-style:normal;fill:#000">62</text>
<text x="130.55" y="562.50" font-size="13.40" textLength="44.78" lengthAdjust="spacingAndGlyphs" style="font-family:'Liberation Sans', sans-serif;font-weight:bold;font-style:normal;fill:#000;stroke:#000;stroke-width:0.3">Awami</text>
<text x="130.00" y="577.00" font-size="13.40" textLength="47.32" lengthAdjust="spacingAndGlyphs" style="font-family:'Liberation Sans', sans-serif;font-weight:bold;font-style:normal;fill:#000;stroke:#000;stroke-width:0.3">League</text>
<text x="219.29" y="540.00" font-size="18.18" textLength="21.31" lengthAdjust="spacingAndGlyphs" style="font-family:'Liberation Sans', sans-serif;font-weight:bold;font-style:normal;fill:#000">14</text>
<text x="277.53" y="532.00" font-size="13.40" textLength="73.99" lengthAdjust="spacingAndGlyphs" style="font-family:'Liberation Sans', sans-serif;font-weight:bold;font-style:normal;fill:#000;stroke:#000;stroke-width:0.3">Islam Jatiya</text>
<text x="277.85" y="545.00" font-size="13.40" textLength="73.91" lengthAdjust="spacingAndGlyphs" style="font-family:'Liberation Sans', sans-serif;font-weight:bold;font-style:normal;fill:#000;stroke:#000;stroke-width:0.3">Oikya Front</text>
<text x="221.40" y="572.00" font-size="18.53" textLength="19.36" lengthAdjust="spacingAndGlyphs" style="font-family:'Liberation Sans', sans-serif;font-weight:bold;font-style:normal;fill:#000">17</text>
<text x="278.19" y="572.00" font-size="13.40" textLength="103.13" lengthAdjust="spacingAndGlyphs" style="font-family:'Liberation Sans', sans-serif;font-weight:bold;font-style:normal;fill:#000;stroke:#000;stroke-width:0.3">Jamaat-e-Islami</text>
<text x="380.07" y="540.00" font-size="18.18" textLength="20.78" lengthAdjust="spacingAndGlyphs" style="font-family:'Liberation Sans', sans-serif;font-weight:bold;font-style:normal;fill:#000">14</text>
<text x="437.58" y="537.00" font-size="13.40" textLength="44.58" lengthAdjust="spacingAndGlyphs" style="font-family:'Liberation Sans', sans-serif;font-weight:bold;font-style:normal;fill:#000;stroke:#000;stroke-width:0.3">Others</text>
<text x="602.51" y="550.75" font-size="18.53" textLength="35.77" lengthAdjust="spacingAndGlyphs" style="font-family:'Liberation Sans', sans-serif;font-weight:bold;font-style:normal;fill:#000">266</text>
<text x="675.30" y="543.00" font-size="13.40" textLength="44.78" lengthAdjust="spacingAndGlyphs" style="font-family:'Liberation Sans', sans-serif;font-weight:bold;font-style:normal;fill:#000;stroke:#000;stroke-width:0.3">Awami</text>
<text x="674.75" y="557.50" font-size="13.40" textLength="47.32" lengthAdjust="spacingAndGlyphs" style="font-family:'Liberation Sans', sans-serif;font-weight:bold;font-style:normal;fill:#000;stroke:#000;stroke-width:0.3">League</text>
<text x="615.79" y="579.25" font-size="18.18" textLength="22.27" lengthAdjust="spacingAndGlyphs" style="font-family:'Liberation Sans', sans-serif;font-weight:bold;font-style:normal;fill:#000">35</text>
<text x="674.76" y="578.00" font-size="13.40" textLength="28.04" lengthAdjust="spacingAndGlyphs" style="font-family:'Liberation Sans', sans-serif;font-weight:bold;font-style:normal;fill:#000;stroke:#000;stroke-width:0.3">BNP</text>
<text x="766.37" y="548.75" font-size="18.53" textLength="18.34" lengthAdjust="spacingAndGlyphs" style="font-family:'Liberation Sans', sans-serif;font-weight:bold;font-style:normal;fill:#000">31</text>
<text x="821.20" y="541.25" font-size="13.40" textLength="73.72" lengthAdjust="spacingAndGlyphs" style="font-family:'Liberation Sans', sans-serif;font-weight:bold;font-style:normal;fill:#000;stroke:#000;stroke-width:0.3">Jatiya Party</text>
<text x="820.74" y="553.75" font-size="13.40" textLength="53.51" lengthAdjust="spacingAndGlyphs" style="font-family:'Liberation Sans', sans-serif;font-weight:bold;font-style:normal;fill:#000;stroke:#000;stroke-width:0.3">(Ershad)</text>
<text x="773.78" y="579.00" font-size="18.53" textLength="11.55" lengthAdjust="spacingAndGlyphs" style="font-family:'Liberation Sans', sans-serif;font-weight:bold;font-style:normal;fill:#000">2</text>
<text x="822.94" y="578.00" font-size="13.40" textLength="102.88" lengthAdjust="spacingAndGlyphs" style="font-family:'Liberation Sans', sans-serif;font-weight:bold;font-style:normal;fill:#000;stroke:#000;stroke-width:0.3">Jamaat-e-Islami</text>
<text x="925.08" y="548.75" font-size="18.53" textLength="20.68" lengthAdjust="spacingAndGlyphs" style="font-family:'Liberation Sans', sans-serif;font-weight:bold;font-style:normal;fill:#000">10</text>
<text x="982.09" y="547.50" font-size="13.40" textLength="43.82" lengthAdjust="spacingAndGlyphs" style="font-family:'Liberation Sans', sans-serif;font-weight:bold;font-style:normal;fill:#000;stroke:#000;stroke-width:0.3">Others</text>
<text x="79.78" y="938.75" font-size="18.53" textLength="34.72" lengthAdjust="spacingAndGlyphs" style="font-family:'Liberation Sans', sans-serif;font-weight:bold;font-style:normal;fill:#000">273</text>
<text x="151.05" y="931.25" font-size="13.40" textLength="44.78" lengthAdjust="spacingAndGlyphs" style="font-family:'Liberation Sans', sans-serif;font-weight:bold;font-style:normal;fill:#000;stroke:#000;stroke-width:0.3">Awami</text>
<text x="150.49" y="945.75" font-size="13.40" textLength="47.83" lengthAdjust="spacingAndGlyphs" style="font-family:'Liberation Sans', sans-serif;font-weight:bold;font-style:normal;fill:#000;stroke:#000;stroke-width:0.3">League</text>
<text x="88.40" y="972.50" font-size="18.53" textLength="25.80" lengthAdjust="spacingAndGlyphs" style="font-family:'Liberation Sans', sans-serif;font-weight:bold;font-style:normal;fill:#000">40</text>
<text x="149.95" y="965.50" font-size="13.40" textLength="73.72" lengthAdjust="spacingAndGlyphs" style="font-family:'Liberation Sans', sans-serif;font-weight:bold;font-style:normal;fill:#000;stroke:#000;stroke-width:0.3">Jatiya Party</text>
<text x="149.50" y="977.00" font-size="13.40" textLength="53.00" lengthAdjust="spacingAndGlyphs" style="font-family:'Liberation Sans', sans-serif;font-weight:bold;font-style:normal;fill:#000;stroke:#000;stroke-width:0.3">(Ershad)</text>
<text x="248.42" y="938.00" font-size="18.18" textLength="13.93" lengthAdjust="spacingAndGlyphs" style="font-family:'Liberation Sans', sans-serif;font-weight:bold;font-style:normal;fill:#000">7</text>
<text x="300.89" y="933.00" font-size="13.40" textLength="53.26" lengthAdjust="spacingAndGlyphs" style="font-family:'Liberation Sans', sans-serif;font-weight:bold;font-style:normal;fill:#000;stroke:#000;stroke-width:0.3">Workers</text>
<text x="300.01" y="944.50" font-size="13.40" textLength="33.16" lengthAdjust="spacingAndGlyphs" style="font-family:'Liberation Sans', sans-serif;font-weight:bold;font-style:normal;fill:#000;stroke:#000;stroke-width:0.3">Party</text>
<text x="248.61" y="970.50" font-size="18.88" textLength="13.52" lengthAdjust="spacingAndGlyphs" style="font-family:'Liberation Sans', sans-serif;font-weight:bold;font-style:normal;fill:#000">6</text>
<text x="301.95" y="970.00" font-size="13.40" textLength="25.19" lengthAdjust="spacingAndGlyphs" style="font-family:'Liberation Sans', sans-serif;font-weight:bold;font-style:normal;fill:#000;stroke:#000;stroke-width:0.3">JSD</text>
<text x="398.01" y="937.00" font-size="18.53" textLength="23.86" lengthAdjust="spacingAndGlyphs" style="font-family:'Liberation Sans', sans-serif;font-weight:bold;font-style:normal;fill:#000">24</text>
<text x="458.34" y="935.00" font-size="13.40" textLength="44.07" lengthAdjust="spacingAndGlyphs" style="font-family:'Liberation Sans', sans-serif;font-weight:bold;font-style:normal;fill:#000;stroke:#000;stroke-width:0.3">Others</text>
<text x="684.68" y="938.90" font-size="18.32" textLength="37.75" lengthAdjust="spacingAndGlyphs" style="font-family:'Liberation Sans', sans-serif;font-weight:bold;font-style:normal;fill:#000">300</text>
<text x="759.10" y="931.40" font-size="13.40" textLength="45.14" lengthAdjust="spacingAndGlyphs" style="font-family:'Liberation Sans', sans-serif;font-weight:bold;font-style:normal;fill:#000;stroke:#000;stroke-width:0.3">Awami</text>
<text x="758.54" y="946.00" font-size="13.40" textLength="47.68" lengthAdjust="spacingAndGlyphs" style="font-family:'Liberation Sans', sans-serif;font-weight:bold;font-style:normal;fill:#000;stroke:#000;stroke-width:0.3">League</text>
<text x="709.43" y="967.40" font-size="18.32" textLength="12.56" lengthAdjust="spacingAndGlyphs" style="font-family:'Liberation Sans', sans-serif;font-weight:bold;font-style:normal;fill:#000">7</text>
<text x="758.54" y="966.60" font-size="13.40" textLength="28.78" lengthAdjust="spacingAndGlyphs" style="font-family:'Liberation Sans', sans-serif;font-weight:bold;font-style:normal;fill:#000;stroke:#000;stroke-width:0.3">BNP</text>
<text x="850.86" y="937.00" font-size="18.53" textLength="18.86" lengthAdjust="spacingAndGlyphs" style="font-family:'Liberation Sans', sans-serif;font-weight:bold;font-style:normal;fill:#000">31</text>
<text x="906.20" y="929.50" font-size="13.40" textLength="72.97" lengthAdjust="spacingAndGlyphs" style="font-family:'Liberation Sans', sans-serif;font-weight:bold;font-style:normal;fill:#000;stroke:#000;stroke-width:0.3">Jatiya Party</text>
<text x="905.75" y="942.00" font-size="13.40" textLength="52.75" lengthAdjust="spacingAndGlyphs" style="font-family:'Liberation Sans', sans-serif;font-weight:bold;font-style:normal;fill:#000;stroke:#000;stroke-width:0.3">(Ershad)</text>
<text x="855.82" y="967.00" font-size="18.53" textLength="11.20" lengthAdjust="spacingAndGlyphs" style="font-family:'Liberation Sans', sans-serif;font-weight:bold;font-style:normal;fill:#000;letter-spacing:-3.305px">11</text>
<text x="907.09" y="965.00" font-size="13.40" textLength="43.82" lengthAdjust="spacingAndGlyphs" style="font-family:'Liberation Sans', sans-serif;font-weight:bold;font-style:normal;fill:#000;stroke:#000;stroke-width:0.3">Others</text>
<text x="722.48" y="1075.10" font-size="17.76" textLength="34.76" lengthAdjust="spacingAndGlyphs" style="font-family:'Liberation Sans', sans-serif;font-weight:bold;font-style:normal;fill:#000">272</text>
<text x="792.21" y="1067.30" font-size="13.40" textLength="44.63" lengthAdjust="spacingAndGlyphs" style="font-family:'Liberation Sans', sans-serif;font-weight:bold;font-style:normal;fill:#000;stroke:#000;stroke-width:0.3">Awami</text>
<text x="791.64" y="1082.00" font-size="13.40" textLength="47.47" lengthAdjust="spacingAndGlyphs" style="font-family:'Liberation Sans', sans-serif;font-weight:bold;font-style:normal;fill:#000;stroke:#000;stroke-width:0.3">League</text>
<text x="733.21" y="1104.50" font-size="17.90" textLength="24.06" lengthAdjust="spacingAndGlyphs" style="font-family:'Liberation Sans', sans-serif;font-weight:bold;font-style:normal;fill:#000">62</text>
<text x="791.63" y="1103.20" font-size="13.40" textLength="89.79" lengthAdjust="spacingAndGlyphs" style="font-family:'Liberation Sans', sans-serif;font-weight:bold;font-style:normal;fill:#000;stroke:#000;stroke-width:0.3">Independents</text>
<text x="737.60" y="1134.30" font-size="17.20" textLength="19.43" lengthAdjust="spacingAndGlyphs" style="font-family:'Liberation Sans', sans-serif;font-weight:bold;font-style:normal;fill:#000">13</text>
<text x="792.35" y="1127.30" font-size="13.40" textLength="72.97" lengthAdjust="spacingAndGlyphs" style="font-family:'Liberation Sans', sans-serif;font-weight:bold;font-style:normal;fill:#000;stroke:#000;stroke-width:0.3">Jatiya Party</text>
<text x="791.90" y="1139.70" font-size="13.40" textLength="52.80" lengthAdjust="spacingAndGlyphs" style="font-family:'Liberation Sans', sans-serif;font-weight:bold;font-style:normal;fill:#000;stroke:#000;stroke-width:0.3">(Ershad)</text>
<text x="735.79" y="1165.60" font-size="17.76" textLength="21.40" lengthAdjust="spacingAndGlyphs" style="font-family:'Liberation Sans', sans-serif;font-weight:bold;font-style:normal;fill:#000">10</text>
<text x="792.00" y="1164.10" font-size="13.40" textLength="43.61" lengthAdjust="spacingAndGlyphs" style="font-family:'Liberation Sans', sans-serif;font-weight:bold;font-style:normal;fill:#000;stroke:#000;stroke-width:0.3">Others</text>
<text x="748.83" y="1193.30" font-size="17.90" textLength="7.97" lengthAdjust="spacingAndGlyphs" style="font-family:'Liberation Sans', sans-serif;font-weight:bold;font-style:normal;fill:#000">1</text>
<text x="791.66" y="1191.80" font-size="13.40" textLength="122.41" lengthAdjust="spacingAndGlyphs" style="font-family:'Liberation Sans', sans-serif;font-weight:bold;font-style:normal;fill:#000;stroke:#000;stroke-width:0.3">Bangaldesh Kalyan</text>
<text x="306.11" y="1308.50" font-size="12.20" textLength="68.49" lengthAdjust="spacingAndGlyphs" style="font-family:'Liberation Sans', sans-serif;font-weight:bold;font-style:normal;fill:#666;letter-spacing:0.699px">SOURCE:</text>
<text x="383.44" y="1308.50" font-size="12.20" textLength="244.46" lengthAdjust="spacingAndGlyphs" style="font-family:'Liberation Sans', sans-serif;font-weight:bold;font-style:normal;fill:#666;letter-spacing:0.876px">GOVERNMENT OF BANGLADESH</text>
<text x="638.30" y="1308.00" font-size="12.20" style="font-family:'Liberation Sans', sans-serif;font-weight:bold;font-style:normal;fill:#666">|</text>
<text x="662.59" y="1308.50" font-size="12.20" textLength="143.02" lengthAdjust="spacingAndGlyphs" style="font-family:'Liberation Sans', sans-serif;font-weight:bold;font-style:normal;fill:#666;letter-spacing:0.989px">FEBRUARY 9, 2026</text>
<text x="76.66" y="1307.60" font-size="11.80" textLength="77.78" lengthAdjust="spacingAndGlyphs" style="font-family:'Liberation Sans', sans-serif;font-weight:bold;font-style:normal;fill:#666;letter-spacing:3.405px">AJLABS</text>
<!-- AJ Labs icon -->
<g fill="none" stroke="#646464" stroke-linecap="round" stroke-linejoin="round">
<path d="M38 1285 V1312.3 Q38 1315.8 41.5 1315.8 H75" stroke-width="5"/>
<path d="M45.3 1303.7 L54.7 1294.2 L60.6 1300.4 L72 1290.8" stroke-width="4.6"/>
</g>
<!-- CC badge -->
<g>
<rect x="987.3" y="1.2" width="93" height="17.6" fill="#111"/>
<rect x="989.1" y="2.9" width="89.6" height="14.1" fill="none" stroke="#fff" stroke-width="0.6"/>
<path d="M989.4 3.2 H1012.5 Q1016.5 9.9 1012.5 16.7 H989.4 Z" fill="#a3aaa3"/>
<circle cx="1002.6" cy="9.8" r="7.7" fill="#fff" stroke="#111" stroke-width="1.6"/>
<text x="1002.9" y="13.1" text-anchor="middle" font-size="10.5" style="font-family:'Liberation Sans',sans-serif;font-weight:bold;fill:#111;stroke:#111;stroke-width:0.4;letter-spacing:-0.7px">cc</text>
<text x="1017.6" y="13.2" font-size="8.9" textLength="48.8" lengthAdjust="spacingAndGlyphs" style="font-family:'Liberation Sans',sans-serif;font-weight:bold;fill:#fff">BY-NC-SA</text>
</g>
<!-- Al Jazeera logo -->
<g>
<rect x="959.7" y="1292.2" width="90.3" height="23.7" fill="none" stroke="#5c5c5c" stroke-width="2"/>
<g transform="translate(975,1220) scale(0.055556)" fill="none" stroke="#5a5a5a" stroke-linecap="round" stroke-linejoin="round">
<path d="M555 108 C512 140 505 220 545 278" stroke-width="28.6"/>
<path d="M545 278 C640 400 760 560 822 760" stroke-width="59.8"/>
<path d="M822 760 C852 900 790 1000 690 1006 C650 1006 622 996 604 986" stroke-width="80.6"/>
<path d="M540 300 C520 340 540 380 580 420 C640 480 690 560 700 640" stroke-width="44.2"/>
<path d="M530 290 C500 330 540 420 520 520 C500 600 460 700 455 800 C450 900 400 1000 430 1080 C460 1170 560 1200 585 1130 C600 1080 590 1000 610 940" stroke-width="44.2"/>
<path d="M490 400 C480 470 380 510 300 570 C220 640 220 760 245 870 C260 960 300 1050 390 1070 C420 1000 400 900 410 820 C420 700 470 560 495 460" stroke-width="41.6"/>
<circle cx="300" cy="850" r="44" stroke-width="54.6"/>
<path d="M530 745 L475 850 L560 945" stroke-width="49.4"/>
<path d="M745 740 C700 800 620 850 585 960" stroke-width="59.8"/>
<path d="M620 590 L545 690" stroke-width="23.4"/>
<path d="M365 620 L330 660" stroke-width="18.2"/>
<g fill="#5a5a5a" stroke="none">
<path d="M740 600 L620 720 L640 770 L752 690 Z"/>
<path d="M420 390 l40 40 l-40 40 l-40 -40 Z"/>
<path d="M462 338 l40 40 l-40 40 l-40 -40 Z"/>
<path d="M590 758 l42 42 l-42 42 l-42 -42 Z"/>
<path d="M725 848 l42 42 l-42 42 l-42 -42 Z"/>
<path d="M503 958 l42 42 l-42 42 l-42 -42 Z"/>
<path d="M490 1038 l42 42 l-42 42 l-42 -42 Z"/>
<path d="M340 668 l22 22 l-22 22 l-22 -22 Z"/>
<path d="M660 1075 l20 20 l-20 20 l-20 -20 Z"/>
</g>
</g>
<text x="964.2" y="1308.7" font-size="14.1" textLength="81" lengthAdjust="spacingAndGlyphs" style="font-family:'Liberation Sans',sans-serif;font-weight:bold;fill:#5c5c5c;stroke:#5c5c5c;stroke-width:0.5">ALJAZEERA</text>
</g>

</svg>
</body></html>
